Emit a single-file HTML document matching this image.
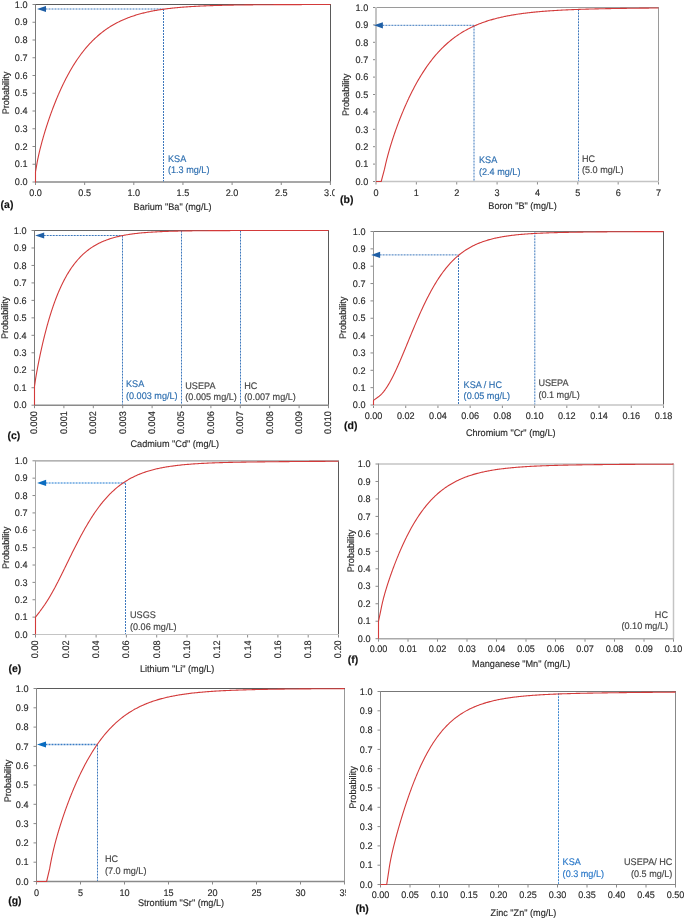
<!DOCTYPE html>
<html><head><meta charset="utf-8"><style>
html,body{margin:0;padding:0;background:#fff;}
body{width:685px;height:919px;overflow:hidden;}
svg{display:block;will-change:transform;}
text{font-family:"Liberation Sans", sans-serif;stroke:currentColor;stroke-width:0.15px;text-rendering:geometricPrecision;}
</style></head><body>
<svg width="685" height="919" viewBox="0 0 685 919" font-family='"Liberation Sans", sans-serif'><defs>
<clipPath id="ca"><rect x="0" y="0" width="334.7" height="220"/></clipPath>
<clipPath id="ce"><rect x="0" y="440" width="342" height="240"/></clipPath>
<clipPath id="cg"><rect x="0" y="680" width="345.8" height="239"/></clipPath>
</defs><g clip-path="url(#ca)">
<line x1="32.50" y1="182.00" x2="35.50" y2="182.00" stroke="#8a8a8a" stroke-width="1"/>
<text x="0" y="0" font-size="9.1" text-anchor="end" fill="#2b2b2b" color="#2b2b2b" font-weight="normal" transform="translate(27.50 185.20) scale(1 1.050)">0.0</text>
<line x1="32.50" y1="164.25" x2="35.50" y2="164.25" stroke="#8a8a8a" stroke-width="1"/>
<text x="0" y="0" font-size="9.1" text-anchor="end" fill="#2b2b2b" color="#2b2b2b" font-weight="normal" transform="translate(27.50 167.45) scale(1 1.050)">0.1</text>
<line x1="32.50" y1="146.50" x2="35.50" y2="146.50" stroke="#8a8a8a" stroke-width="1"/>
<text x="0" y="0" font-size="9.1" text-anchor="end" fill="#2b2b2b" color="#2b2b2b" font-weight="normal" transform="translate(27.50 149.70) scale(1 1.050)">0.2</text>
<line x1="32.50" y1="128.75" x2="35.50" y2="128.75" stroke="#8a8a8a" stroke-width="1"/>
<text x="0" y="0" font-size="9.1" text-anchor="end" fill="#2b2b2b" color="#2b2b2b" font-weight="normal" transform="translate(27.50 131.95) scale(1 1.050)">0.3</text>
<line x1="32.50" y1="111.00" x2="35.50" y2="111.00" stroke="#8a8a8a" stroke-width="1"/>
<text x="0" y="0" font-size="9.1" text-anchor="end" fill="#2b2b2b" color="#2b2b2b" font-weight="normal" transform="translate(27.50 114.20) scale(1 1.050)">0.4</text>
<line x1="32.50" y1="93.25" x2="35.50" y2="93.25" stroke="#8a8a8a" stroke-width="1"/>
<text x="0" y="0" font-size="9.1" text-anchor="end" fill="#2b2b2b" color="#2b2b2b" font-weight="normal" transform="translate(27.50 96.45) scale(1 1.050)">0.5</text>
<line x1="32.50" y1="75.50" x2="35.50" y2="75.50" stroke="#8a8a8a" stroke-width="1"/>
<text x="0" y="0" font-size="9.1" text-anchor="end" fill="#2b2b2b" color="#2b2b2b" font-weight="normal" transform="translate(27.50 78.70) scale(1 1.050)">0.6</text>
<line x1="32.50" y1="57.75" x2="35.50" y2="57.75" stroke="#8a8a8a" stroke-width="1"/>
<text x="0" y="0" font-size="9.1" text-anchor="end" fill="#2b2b2b" color="#2b2b2b" font-weight="normal" transform="translate(27.50 60.95) scale(1 1.050)">0.7</text>
<line x1="32.50" y1="40.00" x2="35.50" y2="40.00" stroke="#8a8a8a" stroke-width="1"/>
<text x="0" y="0" font-size="9.1" text-anchor="end" fill="#2b2b2b" color="#2b2b2b" font-weight="normal" transform="translate(27.50 43.20) scale(1 1.050)">0.8</text>
<line x1="32.50" y1="22.25" x2="35.50" y2="22.25" stroke="#8a8a8a" stroke-width="1"/>
<text x="0" y="0" font-size="9.1" text-anchor="end" fill="#2b2b2b" color="#2b2b2b" font-weight="normal" transform="translate(27.50 25.45) scale(1 1.050)">0.9</text>
<line x1="32.50" y1="4.50" x2="35.50" y2="4.50" stroke="#8a8a8a" stroke-width="1"/>
<text x="0" y="0" font-size="9.1" text-anchor="end" fill="#2b2b2b" color="#2b2b2b" font-weight="normal" transform="translate(27.50 7.70) scale(1 1.050)">1.0</text>
<line x1="35.50" y1="182.00" x2="35.50" y2="185.00" stroke="#8a8a8a" stroke-width="1"/>
<text x="0" y="0" font-size="9.1" text-anchor="middle" fill="#2b2b2b" color="#2b2b2b" font-weight="normal" transform="translate(35.50 195.50) scale(1 1.050)">0.0</text>
<line x1="84.65" y1="182.00" x2="84.65" y2="185.00" stroke="#8a8a8a" stroke-width="1"/>
<text x="0" y="0" font-size="9.1" text-anchor="middle" fill="#2b2b2b" color="#2b2b2b" font-weight="normal" transform="translate(84.65 195.50) scale(1 1.050)">0.5</text>
<line x1="133.80" y1="182.00" x2="133.80" y2="185.00" stroke="#8a8a8a" stroke-width="1"/>
<text x="0" y="0" font-size="9.1" text-anchor="middle" fill="#2b2b2b" color="#2b2b2b" font-weight="normal" transform="translate(133.80 195.50) scale(1 1.050)">1.0</text>
<line x1="182.95" y1="182.00" x2="182.95" y2="185.00" stroke="#8a8a8a" stroke-width="1"/>
<text x="0" y="0" font-size="9.1" text-anchor="middle" fill="#2b2b2b" color="#2b2b2b" font-weight="normal" transform="translate(182.95 195.50) scale(1 1.050)">1.5</text>
<line x1="232.10" y1="182.00" x2="232.10" y2="185.00" stroke="#8a8a8a" stroke-width="1"/>
<text x="0" y="0" font-size="9.1" text-anchor="middle" fill="#2b2b2b" color="#2b2b2b" font-weight="normal" transform="translate(232.10 195.50) scale(1 1.050)">2.0</text>
<line x1="281.25" y1="182.00" x2="281.25" y2="185.00" stroke="#8a8a8a" stroke-width="1"/>
<text x="0" y="0" font-size="9.1" text-anchor="middle" fill="#2b2b2b" color="#2b2b2b" font-weight="normal" transform="translate(281.25 195.50) scale(1 1.050)">2.5</text>
<line x1="330.40" y1="182.00" x2="330.40" y2="185.00" stroke="#8a8a8a" stroke-width="1"/>
<text x="0" y="0" font-size="9.1" text-anchor="middle" fill="#2b2b2b" color="#2b2b2b" font-weight="normal" transform="translate(330.40 195.50) scale(1 1.050)">3.0</text>
<line x1="330.50" y1="4.50" x2="330.50" y2="182.00" stroke="#5a5a5a" stroke-width="1"/>
<line x1="35.50" y1="4.50" x2="331.00" y2="4.50" stroke="#5a5a5a" stroke-width="1"/>
<line x1="35.50" y1="4.00" x2="35.50" y2="182.50" stroke="#7a7a7a" stroke-width="1"/>
<line x1="35.00" y1="182.00" x2="331.00" y2="182.00" stroke="#8a8a8a" stroke-width="1.5"/>
<line x1="163.50" y1="9.00" x2="163.50" y2="181.40" stroke="#3d78bd" stroke-width="1" stroke-dasharray="2,1"/>
<line x1="45.50" y1="9.00" x2="163.50" y2="9.00" stroke="#3d78bd" stroke-width="1" stroke-dasharray="2,1"/>
<path d="M37.00,9.00 L46.00,5.90 L46.00,12.10 Z" fill="#1f5fa6"/>
<path d="M35.50,182.50 L35.50,171.80 L36.70,165.01 L36.90,163.88 L37.09,162.78 L37.29,161.72 L37.49,160.69 L37.69,159.69 L37.88,158.72 L38.08,157.77 L38.28,156.84 L38.47,155.93 L38.67,155.04 L38.87,154.16 L39.07,153.30 L39.26,152.45 L39.46,151.62 L39.66,150.80 L39.85,149.98 L40.05,149.18 L40.25,148.39 L40.45,147.61 L40.64,146.83 L40.84,146.07 L41.04,145.31 L41.24,144.56 L41.43,143.82 L41.63,143.08 L41.83,142.35 L42.02,141.63 L42.22,140.91 L42.42,140.20 L42.62,139.50 L42.81,138.80 L43.01,138.10 L43.21,137.41 L43.40,136.73 L43.60,136.05 L43.80,135.38 L44.00,134.71 L44.19,134.04 L44.39,133.38 L44.59,132.73 L44.78,132.08 L44.98,131.43 L45.18,130.78 L45.38,130.14 L45.57,129.51 L45.77,128.88 L45.97,128.25 L46.16,127.63 L46.36,127.00 L46.56,126.39 L46.76,125.77 L46.95,125.16 L47.15,124.56 L47.35,123.96 L47.54,123.36 L47.74,122.76 L47.94,122.17 L48.14,121.58 L48.33,120.99 L48.53,120.40 L48.73,119.82 L48.93,119.25 L49.12,118.67 L49.32,118.10 L49.52,117.53 L49.71,116.97 L49.91,116.40 L50.11,115.84 L50.31,115.29 L50.50,114.73 L50.70,114.18 L50.90,113.63 L51.09,113.08 L51.29,112.54 L51.49,112.00 L51.69,111.46 L51.88,110.93 L52.08,110.39 L52.28,109.86 L52.47,109.34 L52.67,108.81 L52.87,108.29 L53.07,107.77 L53.26,107.25 L53.46,106.73 L53.66,106.22 L53.85,105.71 L54.05,105.20 L54.25,104.70 L54.45,104.20 L54.64,103.70 L54.84,103.20 L55.04,102.70 L55.24,102.21 L55.43,101.72 L55.63,101.23 L55.83,100.74 L56.02,100.26 L56.22,99.78 L56.42,99.30 L56.62,98.82 L56.81,98.34 L57.01,97.87 L57.21,97.40 L57.40,96.93 L57.60,96.47 L57.80,96.00 L58.00,95.54 L58.19,95.08 L58.39,94.62 L58.59,94.17 L58.78,93.71 L58.98,93.26 L59.18,92.81 L59.38,92.37 L59.57,91.92 L59.77,91.48 L59.97,91.04 L60.16,90.60 L60.36,90.16 L60.56,89.73 L60.76,89.30 L60.95,88.87 L61.15,88.44 L61.35,88.01 L61.54,87.59 L61.74,87.16 L61.94,86.74 L62.14,86.32 L62.33,85.91 L62.53,85.49 L62.73,85.08 L62.93,84.67 L63.12,84.26 L63.32,83.85 L63.52,83.45 L63.71,83.04 L63.91,82.64 L64.11,82.24 L64.31,81.85 L64.50,81.45 L64.70,81.06 L64.90,80.66 L65.09,80.27 L65.29,79.88 L65.49,79.50 L65.69,79.11 L65.88,78.73 L66.08,78.35 L66.96,76.66 L67.85,75.01 L68.73,73.39 L69.62,71.81 L70.50,70.26 L71.39,68.74 L72.27,67.25 L73.15,65.80 L74.04,64.38 L74.92,62.98 L75.81,61.62 L76.69,60.29 L77.58,58.98 L78.46,57.71 L79.35,56.46 L80.23,55.24 L81.11,54.04 L82.00,52.87 L82.88,51.73 L83.77,50.61 L84.65,49.52 L85.54,48.45 L86.42,47.40 L87.30,46.38 L88.19,45.38 L89.07,44.40 L89.96,43.45 L90.84,42.51 L91.73,41.60 L92.61,40.71 L93.49,39.84 L94.38,38.98 L95.26,38.15 L96.15,37.34 L97.03,36.54 L97.92,35.76 L98.80,35.00 L99.69,34.26 L100.57,33.54 L101.45,32.83 L102.34,32.14 L103.22,31.46 L104.11,30.80 L104.99,30.16 L105.88,29.53 L106.76,28.91 L107.64,28.31 L108.53,27.73 L109.41,27.15 L110.30,26.59 L111.18,26.05 L112.07,25.52 L112.95,24.99 L113.83,24.49 L114.72,23.99 L115.60,23.51 L116.49,23.03 L117.37,22.57 L118.26,22.12 L119.14,21.68 L120.03,21.25 L120.91,20.84 L121.79,20.43 L122.68,20.03 L123.56,19.64 L124.45,19.26 L125.33,18.89 L126.22,18.53 L127.10,18.17 L127.98,17.83 L128.87,17.49 L129.75,17.17 L130.64,16.85 L131.52,16.54 L132.41,16.23 L133.29,15.94 L134.17,15.65 L135.06,15.36 L135.94,15.09 L136.83,14.82 L137.71,14.56 L138.60,14.30 L139.48,14.05 L140.37,13.81 L141.25,13.57 L142.13,13.34 L143.02,13.12 L143.90,12.90 L144.79,12.68 L145.67,12.47 L146.56,12.27 L147.44,12.07 L148.32,11.88 L149.21,11.69 L150.09,11.51 L150.98,11.33 L151.86,11.15 L152.75,10.98 L153.63,10.81 L154.51,10.65 L155.40,10.49 L156.28,10.34 L157.17,10.19 L158.05,10.04 L158.94,9.90 L159.82,9.76 L160.71,9.63 L161.59,9.49 L162.47,9.37 L163.36,9.24 L164.24,9.12 L165.13,9.00 L166.01,8.88 L166.90,8.77 L167.78,8.66 L168.66,8.55 L169.55,8.45 L170.43,8.34 L171.32,8.25 L172.20,8.15 L173.09,8.05 L173.97,7.96 L174.85,7.87 L175.74,7.78 L176.62,7.70 L177.51,7.62 L178.39,7.54 L179.28,7.46 L180.16,7.38 L181.05,7.31 L181.93,7.23 L182.81,7.16 L183.70,7.09 L184.58,7.02 L185.47,6.96 L186.35,6.90 L187.24,6.83 L188.12,6.77 L189.00,6.71 L189.89,6.66 L190.77,6.60 L191.66,6.54 L192.54,6.49 L193.43,6.44 L194.31,6.39 L195.19,6.34 L196.08,6.29 L196.96,6.25 L197.85,6.20 L198.73,6.16 L199.62,6.11 L200.50,6.07 L201.39,6.03 L202.27,5.99 L203.15,5.95 L204.04,5.91 L204.92,5.88 L205.81,5.84 L206.69,5.80 L207.58,5.77 L208.46,5.74 L209.34,5.70 L210.23,5.67 L211.11,5.64 L212.00,5.61 L212.88,5.58 L213.77,5.56 L214.65,5.53 L215.53,5.50 L216.42,5.47 L217.30,5.45 L218.19,5.42 L219.07,5.40 L219.96,5.38 L220.84,5.35 L221.73,5.33 L222.61,5.31 L223.49,5.29 L224.38,5.27 L225.26,5.25 L226.15,5.23 L227.03,5.21 L227.92,5.19 L228.80,5.17 L229.68,5.16 L230.57,5.14 L231.45,5.12 L232.34,5.11 L233.22,5.09 L234.11,5.07 L234.99,5.06 L235.87,5.04 L236.76,5.03 L237.64,5.02 L238.53,5.00 L239.41,4.99 L240.30,4.98 L241.18,4.96 L242.07,4.95 L242.95,4.94 L243.83,4.93 L244.72,4.92 L245.60,4.91 L246.49,4.90 L247.37,4.89 L248.26,4.88 L249.14,4.87 L250.02,4.86 L250.91,4.85 L251.79,4.84 L252.68,4.83 L253.56,4.82 L254.45,4.81 L255.33,4.80 L256.21,4.80 L257.10,4.79 L257.98,4.78 L258.87,4.77 L259.75,4.77 L260.64,4.76 L261.52,4.75 L262.41,4.75 L263.29,4.74 L264.17,4.73 L265.06,4.73 L265.94,4.72 L266.83,4.71 L267.71,4.71 L268.60,4.70 L269.48,4.70 L270.36,4.69 L271.25,4.69 L272.13,4.68 L273.02,4.68 L273.90,4.67 L274.79,4.67 L275.67,4.66 L276.55,4.66 L277.44,4.66 L278.32,4.65 L279.21,4.65 L280.09,4.64 L280.98,4.64 L281.86,4.64 L282.75,4.63 L283.63,4.63 L284.51,4.63 L285.40,4.62 L286.28,4.62 L287.17,4.62 L288.05,4.61 L288.94,4.61 L289.82,4.61 L290.70,4.60 L291.59,4.60 L292.47,4.60 L293.36,4.60 L294.24,4.59 L295.13,4.59 L296.01,4.59 L296.89,4.59 L297.78,4.58 L298.66,4.58 L299.55,4.58 L300.43,4.58 L301.32,4.58 L302.20,4.57 L303.09,4.57 L303.97,4.57 L304.85,4.57 L305.74,4.57 L306.62,4.56 L307.51,4.56 L308.39,4.56 L309.28,4.56 L310.16,4.56 L311.04,4.56 L311.93,4.55 L312.81,4.55 L313.70,4.55 L314.58,4.55 L315.47,4.55 L316.35,4.55 L317.23,4.55 L318.12,4.55 L319.00,4.54 L319.89,4.54 L320.77,4.54 L321.66,4.54 L322.54,4.54 L323.43,4.54 L324.31,4.54 L325.19,4.54 L326.08,4.54 L326.96,4.53 L327.85,4.53 L328.73,4.53 L329.62,4.53 L330.50,4.53" fill="none" stroke="#d33a3a" stroke-width="1.1" stroke-linejoin="round"/>
<text x="0" y="0" font-size="9.1" text-anchor="start" fill="#2e6fb0" color="#2e6fb0" font-weight="normal" transform="translate(168.00 161.60) scale(1 1.050)">KSA</text>
<text x="0" y="0" font-size="9.1" text-anchor="start" fill="#2e6fb0" color="#2e6fb0" font-weight="normal" transform="translate(168.00 172.60) scale(1 1.050)">(1.3 mg/L)</text>
<text x="0" y="0" font-size="9.15" text-anchor="middle" fill="#2b2b2b" color="#2b2b2b" font-weight="normal" transform="translate(172.55 209.80) scale(1 1.050)">Barium "Ba" (mg/L)</text>
<text x="0" y="0" font-size="9.1" text-anchor="middle" fill="#2b2b2b" color="#2b2b2b" font-weight="normal" transform="translate(8.90 93.00) rotate(-90) scale(1 1.050)">Probability</text>
</g>
<text x="0" y="0" font-size="10.5" text-anchor="start" fill="#111" color="#111" font-weight="bold" transform="translate(0.60 208.20)">(a)</text>
<line x1="373.00" y1="181.50" x2="376.00" y2="181.50" stroke="#8a8a8a" stroke-width="1"/>
<text x="0" y="0" font-size="9.1" text-anchor="end" fill="#2b2b2b" color="#2b2b2b" font-weight="normal" transform="translate(368.20 184.70) scale(1 1.050)">0.0</text>
<line x1="373.00" y1="164.10" x2="376.00" y2="164.10" stroke="#8a8a8a" stroke-width="1"/>
<text x="0" y="0" font-size="9.1" text-anchor="end" fill="#2b2b2b" color="#2b2b2b" font-weight="normal" transform="translate(368.20 167.30) scale(1 1.050)">0.1</text>
<line x1="373.00" y1="146.70" x2="376.00" y2="146.70" stroke="#8a8a8a" stroke-width="1"/>
<text x="0" y="0" font-size="9.1" text-anchor="end" fill="#2b2b2b" color="#2b2b2b" font-weight="normal" transform="translate(368.20 149.90) scale(1 1.050)">0.2</text>
<line x1="373.00" y1="129.30" x2="376.00" y2="129.30" stroke="#8a8a8a" stroke-width="1"/>
<text x="0" y="0" font-size="9.1" text-anchor="end" fill="#2b2b2b" color="#2b2b2b" font-weight="normal" transform="translate(368.20 132.50) scale(1 1.050)">0.3</text>
<line x1="373.00" y1="111.90" x2="376.00" y2="111.90" stroke="#8a8a8a" stroke-width="1"/>
<text x="0" y="0" font-size="9.1" text-anchor="end" fill="#2b2b2b" color="#2b2b2b" font-weight="normal" transform="translate(368.20 115.10) scale(1 1.050)">0.4</text>
<line x1="373.00" y1="94.50" x2="376.00" y2="94.50" stroke="#8a8a8a" stroke-width="1"/>
<text x="0" y="0" font-size="9.1" text-anchor="end" fill="#2b2b2b" color="#2b2b2b" font-weight="normal" transform="translate(368.20 97.70) scale(1 1.050)">0.5</text>
<line x1="373.00" y1="77.10" x2="376.00" y2="77.10" stroke="#8a8a8a" stroke-width="1"/>
<text x="0" y="0" font-size="9.1" text-anchor="end" fill="#2b2b2b" color="#2b2b2b" font-weight="normal" transform="translate(368.20 80.30) scale(1 1.050)">0.6</text>
<line x1="373.00" y1="59.70" x2="376.00" y2="59.70" stroke="#8a8a8a" stroke-width="1"/>
<text x="0" y="0" font-size="9.1" text-anchor="end" fill="#2b2b2b" color="#2b2b2b" font-weight="normal" transform="translate(368.20 62.90) scale(1 1.050)">0.7</text>
<line x1="373.00" y1="42.30" x2="376.00" y2="42.30" stroke="#8a8a8a" stroke-width="1"/>
<text x="0" y="0" font-size="9.1" text-anchor="end" fill="#2b2b2b" color="#2b2b2b" font-weight="normal" transform="translate(368.20 45.50) scale(1 1.050)">0.8</text>
<line x1="373.00" y1="24.90" x2="376.00" y2="24.90" stroke="#8a8a8a" stroke-width="1"/>
<text x="0" y="0" font-size="9.1" text-anchor="end" fill="#2b2b2b" color="#2b2b2b" font-weight="normal" transform="translate(368.20 28.10) scale(1 1.050)">0.9</text>
<line x1="373.00" y1="7.50" x2="376.00" y2="7.50" stroke="#8a8a8a" stroke-width="1"/>
<text x="0" y="0" font-size="9.1" text-anchor="end" fill="#2b2b2b" color="#2b2b2b" font-weight="normal" transform="translate(368.20 10.70) scale(1 1.050)">1.0</text>
<line x1="376.00" y1="181.50" x2="376.00" y2="184.50" stroke="#8a8a8a" stroke-width="1"/>
<text x="0" y="0" font-size="9.1" text-anchor="middle" fill="#2b2b2b" color="#2b2b2b" font-weight="normal" transform="translate(376.00 195.60) scale(1 1.050)">0</text>
<line x1="416.36" y1="181.50" x2="416.36" y2="184.50" stroke="#8a8a8a" stroke-width="1"/>
<text x="0" y="0" font-size="9.1" text-anchor="middle" fill="#2b2b2b" color="#2b2b2b" font-weight="normal" transform="translate(416.36 195.60) scale(1 1.050)">1</text>
<line x1="456.72" y1="181.50" x2="456.72" y2="184.50" stroke="#8a8a8a" stroke-width="1"/>
<text x="0" y="0" font-size="9.1" text-anchor="middle" fill="#2b2b2b" color="#2b2b2b" font-weight="normal" transform="translate(456.72 195.60) scale(1 1.050)">2</text>
<line x1="497.08" y1="181.50" x2="497.08" y2="184.50" stroke="#8a8a8a" stroke-width="1"/>
<text x="0" y="0" font-size="9.1" text-anchor="middle" fill="#2b2b2b" color="#2b2b2b" font-weight="normal" transform="translate(497.08 195.60) scale(1 1.050)">3</text>
<line x1="537.44" y1="181.50" x2="537.44" y2="184.50" stroke="#8a8a8a" stroke-width="1"/>
<text x="0" y="0" font-size="9.1" text-anchor="middle" fill="#2b2b2b" color="#2b2b2b" font-weight="normal" transform="translate(537.44 195.60) scale(1 1.050)">4</text>
<line x1="577.80" y1="181.50" x2="577.80" y2="184.50" stroke="#8a8a8a" stroke-width="1"/>
<text x="0" y="0" font-size="9.1" text-anchor="middle" fill="#2b2b2b" color="#2b2b2b" font-weight="normal" transform="translate(577.80 195.60) scale(1 1.050)">5</text>
<line x1="618.16" y1="181.50" x2="618.16" y2="184.50" stroke="#8a8a8a" stroke-width="1"/>
<text x="0" y="0" font-size="9.1" text-anchor="middle" fill="#2b2b2b" color="#2b2b2b" font-weight="normal" transform="translate(618.16 195.60) scale(1 1.050)">6</text>
<line x1="658.52" y1="181.50" x2="658.52" y2="184.50" stroke="#8a8a8a" stroke-width="1"/>
<text x="0" y="0" font-size="9.1" text-anchor="middle" fill="#2b2b2b" color="#2b2b2b" font-weight="normal" transform="translate(658.52 195.60) scale(1 1.050)">7</text>
<line x1="658.50" y1="7.50" x2="658.50" y2="181.50" stroke="#9a9a9a" stroke-width="1"/>
<line x1="376.00" y1="7.50" x2="659.00" y2="7.50" stroke="#9a9a9a" stroke-width="1"/>
<line x1="376.00" y1="7.00" x2="376.00" y2="182.00" stroke="#c4c4c4" stroke-width="2"/>
<line x1="375.50" y1="181.50" x2="659.00" y2="181.50" stroke="#c4c4c4" stroke-width="1.5"/>
<line x1="474.00" y1="25.60" x2="474.00" y2="180.90" stroke="#3d78bd" stroke-width="1" stroke-dasharray="2,1"/>
<line x1="578.50" y1="9.30" x2="578.50" y2="180.90" stroke="#3d78bd" stroke-width="1" stroke-dasharray="2,1"/>
<line x1="382.40" y1="25.30" x2="474.00" y2="25.30" stroke="#3d78bd" stroke-width="1" stroke-dasharray="2,1"/>
<path d="M373.90,25.30 L382.90,22.20 L382.90,28.40 Z" fill="#1f5fa6"/>
<path d="M376.00,181.50 L381.20,181.50 L384.50,169.17 L384.68,168.32 L384.87,167.48 L385.05,166.65 L385.24,165.83 L385.42,165.03 L385.60,164.23 L385.79,163.45 L385.97,162.68 L386.16,161.91 L386.34,161.16 L386.52,160.41 L386.71,159.68 L386.89,158.95 L387.07,158.23 L387.26,157.52 L387.44,156.82 L387.63,156.12 L387.81,155.43 L387.99,154.75 L388.18,154.07 L388.36,153.40 L388.55,152.74 L388.73,152.08 L388.91,151.43 L389.10,150.78 L389.28,150.14 L389.47,149.50 L389.65,148.87 L389.83,148.24 L390.02,147.62 L390.20,147.00 L390.38,146.39 L390.57,145.78 L390.75,145.18 L390.94,144.58 L391.12,143.98 L391.30,143.39 L391.49,142.80 L391.67,142.22 L391.86,141.64 L392.04,141.06 L392.22,140.48 L392.41,139.91 L392.59,139.34 L392.78,138.78 L392.96,138.22 L393.14,137.66 L393.33,137.11 L393.51,136.55 L393.69,136.00 L393.88,135.46 L394.06,134.91 L394.25,134.37 L394.43,133.83 L394.61,133.30 L394.80,132.77 L394.98,132.24 L395.17,131.71 L395.35,131.18 L395.53,130.66 L395.72,130.14 L395.90,129.62 L396.09,129.11 L396.27,128.60 L396.45,128.08 L396.64,127.58 L396.82,127.07 L397.00,126.57 L397.19,126.07 L397.37,125.57 L397.56,125.07 L397.74,124.57 L397.92,124.08 L398.11,123.59 L398.29,123.10 L398.48,122.61 L398.66,122.13 L398.84,121.65 L399.03,121.17 L399.21,120.69 L399.40,120.21 L399.58,119.74 L399.76,119.26 L399.95,118.79 L400.13,118.32 L400.31,117.86 L400.50,117.39 L400.68,116.93 L400.87,116.47 L401.05,116.01 L401.23,115.55 L401.42,115.10 L401.60,114.64 L401.79,114.19 L401.97,113.74 L402.15,113.29 L402.34,112.84 L402.52,112.40 L402.71,111.96 L402.89,111.51 L403.07,111.07 L403.26,110.64 L403.44,110.20 L403.62,109.77 L403.81,109.33 L403.99,108.90 L404.18,108.47 L404.36,108.04 L404.54,107.62 L404.73,107.19 L404.91,106.77 L405.10,106.35 L405.28,105.93 L405.46,105.51 L405.65,105.09 L405.83,104.68 L406.02,104.27 L406.20,103.85 L406.38,103.44 L406.57,103.04 L406.75,102.63 L406.93,102.22 L407.12,101.82 L407.30,101.42 L407.49,101.02 L407.67,100.62 L407.85,100.22 L408.04,99.82 L408.22,99.43 L408.41,99.04 L408.59,98.64 L408.77,98.25 L408.96,97.87 L409.14,97.48 L409.33,97.09 L409.51,96.71 L409.69,96.33 L409.88,95.95 L410.06,95.57 L410.24,95.19 L410.43,94.81 L410.61,94.44 L410.80,94.06 L410.98,93.69 L411.16,93.32 L411.35,92.95 L411.53,92.58 L411.72,92.21 L411.90,91.85 L412.72,90.23 L413.55,88.64 L414.37,87.07 L415.20,85.54 L416.02,84.02 L416.85,82.54 L417.67,81.08 L418.50,79.65 L419.32,78.25 L420.15,76.87 L420.97,75.51 L421.80,74.18 L422.62,72.87 L423.45,71.59 L424.27,70.33 L425.10,69.09 L425.92,67.88 L426.75,66.68 L427.57,65.51 L428.39,64.37 L429.22,63.24 L430.04,62.13 L430.87,61.05 L431.69,59.98 L432.52,58.94 L433.34,57.92 L434.17,56.91 L434.99,55.93 L435.82,54.96 L436.64,54.01 L437.47,53.08 L438.29,52.17 L439.12,51.28 L439.94,50.40 L440.77,49.54 L441.59,48.70 L442.42,47.87 L443.24,47.06 L444.07,46.27 L444.89,45.49 L445.71,44.73 L446.54,43.98 L447.36,43.25 L448.19,42.53 L449.01,41.83 L449.84,41.14 L450.66,40.46 L451.49,39.80 L452.31,39.15 L453.14,38.51 L453.96,37.89 L454.79,37.28 L455.61,36.68 L456.44,36.10 L457.26,35.52 L458.09,34.96 L458.91,34.41 L459.74,33.87 L460.56,33.34 L461.38,32.82 L462.21,32.32 L463.03,31.82 L463.86,31.33 L464.68,30.86 L465.51,30.39 L466.33,29.93 L467.16,29.48 L467.98,29.05 L468.81,28.62 L469.63,28.20 L470.46,27.78 L471.28,27.38 L472.11,26.98 L472.93,26.60 L473.76,26.22 L474.58,25.85 L475.41,25.48 L476.23,25.13 L477.06,24.78 L477.88,24.44 L478.70,24.10 L479.53,23.78 L480.35,23.46 L481.18,23.14 L482.00,22.84 L482.83,22.53 L483.65,22.24 L484.48,21.95 L485.30,21.67 L486.13,21.39 L486.95,21.12 L487.78,20.85 L488.60,20.59 L489.43,20.34 L490.25,20.09 L491.08,19.85 L491.90,19.61 L492.73,19.37 L493.55,19.14 L494.37,18.92 L495.20,18.70 L496.02,18.48 L496.85,18.27 L497.67,18.07 L498.50,17.87 L499.32,17.67 L500.15,17.47 L500.97,17.28 L501.80,17.10 L502.62,16.92 L503.45,16.74 L504.27,16.56 L505.10,16.39 L505.92,16.22 L506.75,16.06 L507.57,15.90 L508.40,15.74 L509.22,15.59 L510.05,15.43 L510.87,15.29 L511.69,15.14 L512.52,15.00 L513.34,14.86 L514.17,14.72 L514.99,14.59 L515.82,14.46 L516.64,14.33 L517.47,14.21 L518.29,14.08 L519.12,13.96 L519.94,13.84 L520.77,13.73 L521.59,13.61 L522.42,13.50 L523.24,13.40 L524.07,13.29 L524.89,13.18 L525.72,13.08 L526.54,12.98 L527.36,12.88 L528.19,12.79 L529.01,12.69 L529.84,12.60 L530.66,12.51 L531.49,12.42 L532.31,12.33 L533.14,12.25 L533.96,12.16 L534.79,12.08 L535.61,12.00 L536.44,11.92 L537.26,11.85 L538.09,11.77 L538.91,11.70 L539.74,11.62 L540.56,11.55 L541.39,11.48 L542.21,11.41 L543.04,11.35 L543.86,11.28 L544.68,11.21 L545.51,11.15 L546.33,11.09 L547.16,11.03 L547.98,10.97 L548.81,10.91 L549.63,10.85 L550.46,10.80 L551.28,10.74 L552.11,10.69 L552.93,10.63 L553.76,10.58 L554.58,10.53 L555.41,10.48 L556.23,10.43 L557.06,10.38 L557.88,10.33 L558.71,10.29 L559.53,10.24 L560.35,10.20 L561.18,10.15 L562.00,10.11 L562.83,10.07 L563.65,10.03 L564.48,9.99 L565.30,9.95 L566.13,9.91 L566.95,9.87 L567.78,9.83 L568.60,9.79 L569.43,9.76 L570.25,9.72 L571.08,9.69 L571.90,9.65 L572.73,9.62 L573.55,9.59 L574.38,9.55 L575.20,9.52 L576.03,9.49 L576.85,9.46 L577.67,9.43 L578.50,9.40 L579.32,9.37 L580.15,9.34 L580.97,9.32 L581.80,9.29 L582.62,9.26 L583.45,9.23 L584.27,9.21 L585.10,9.18 L585.92,9.16 L586.75,9.13 L587.57,9.11 L588.40,9.08 L589.22,9.06 L590.05,9.04 L590.87,9.02 L591.70,8.99 L592.52,8.97 L593.34,8.95 L594.17,8.93 L594.99,8.91 L595.82,8.89 L596.64,8.87 L597.47,8.85 L598.29,8.83 L599.12,8.81 L599.94,8.79 L600.77,8.77 L601.59,8.76 L602.42,8.74 L603.24,8.72 L604.07,8.70 L604.89,8.69 L605.72,8.67 L606.54,8.65 L607.37,8.64 L608.19,8.62 L609.02,8.61 L609.84,8.59 L610.66,8.58 L611.49,8.56 L612.31,8.55 L613.14,8.53 L613.96,8.52 L614.79,8.51 L615.61,8.49 L616.44,8.48 L617.26,8.46 L618.09,8.45 L618.91,8.44 L619.74,8.43 L620.56,8.41 L621.39,8.40 L622.21,8.39 L623.04,8.38 L623.86,8.36 L624.69,8.35 L625.51,8.34 L626.33,8.33 L627.16,8.32 L627.98,8.31 L628.81,8.30 L629.63,8.29 L630.46,8.27 L631.28,8.26 L632.11,8.25 L632.93,8.24 L633.76,8.23 L634.58,8.22 L635.41,8.21 L636.23,8.20 L637.06,8.19 L637.88,8.19 L638.71,8.18 L639.53,8.17 L640.36,8.16 L641.18,8.15 L642.01,8.14 L642.83,8.13 L643.65,8.12 L644.48,8.12 L645.30,8.11 L646.13,8.10 L646.95,8.09 L647.78,8.08 L648.60,8.08 L649.43,8.07 L650.25,8.06 L651.08,8.05 L651.90,8.05 L652.73,8.04 L653.55,8.03 L654.38,8.02 L655.20,8.02 L656.03,8.01 L656.85,8.00 L657.68,8.00 L658.50,7.99" fill="none" stroke="#d33a3a" stroke-width="1.1" stroke-linejoin="round"/>
<text x="0" y="0" font-size="9.1" text-anchor="start" fill="#2e6fb0" color="#2e6fb0" font-weight="normal" transform="translate(479.00 163.40) scale(1 1.050)">KSA</text>
<text x="0" y="0" font-size="9.1" text-anchor="start" fill="#2e6fb0" color="#2e6fb0" font-weight="normal" transform="translate(479.00 174.80) scale(1 1.050)">(2.4 mg/L)</text>
<text x="0" y="0" font-size="9.1" text-anchor="start" fill="#454545" color="#454545" font-weight="normal" transform="translate(582.00 162.00) scale(1 1.050)">HC</text>
<text x="0" y="0" font-size="9.1" text-anchor="start" fill="#454545" color="#454545" font-weight="normal" transform="translate(582.00 173.40) scale(1 1.050)">(5.0 mg/L)</text>
<text x="0" y="0" font-size="9.15" text-anchor="middle" fill="#2b2b2b" color="#2b2b2b" font-weight="normal" transform="translate(522.50 208.60) scale(1 1.050)">Boron "B" (mg/L)</text>
<text x="0" y="0" font-size="9.1" text-anchor="middle" fill="#2b2b2b" color="#2b2b2b" font-weight="normal" transform="translate(348.50 94.85) rotate(-90) scale(1 1.050)">Probability</text>
<text x="0" y="0" font-size="10.5" text-anchor="start" fill="#111" color="#111" font-weight="bold" transform="translate(340.00 203.00)">(b)</text>
<line x1="31.50" y1="405.20" x2="34.50" y2="405.20" stroke="#8a8a8a" stroke-width="1"/>
<text x="0" y="0" font-size="9.1" text-anchor="end" fill="#2b2b2b" color="#2b2b2b" font-weight="normal" transform="translate(26.50 408.40) scale(1 1.050)">0.0</text>
<line x1="31.50" y1="387.73" x2="34.50" y2="387.73" stroke="#8a8a8a" stroke-width="1"/>
<text x="0" y="0" font-size="9.1" text-anchor="end" fill="#2b2b2b" color="#2b2b2b" font-weight="normal" transform="translate(26.50 390.93) scale(1 1.050)">0.1</text>
<line x1="31.50" y1="370.26" x2="34.50" y2="370.26" stroke="#8a8a8a" stroke-width="1"/>
<text x="0" y="0" font-size="9.1" text-anchor="end" fill="#2b2b2b" color="#2b2b2b" font-weight="normal" transform="translate(26.50 373.46) scale(1 1.050)">0.2</text>
<line x1="31.50" y1="352.79" x2="34.50" y2="352.79" stroke="#8a8a8a" stroke-width="1"/>
<text x="0" y="0" font-size="9.1" text-anchor="end" fill="#2b2b2b" color="#2b2b2b" font-weight="normal" transform="translate(26.50 355.99) scale(1 1.050)">0.3</text>
<line x1="31.50" y1="335.32" x2="34.50" y2="335.32" stroke="#8a8a8a" stroke-width="1"/>
<text x="0" y="0" font-size="9.1" text-anchor="end" fill="#2b2b2b" color="#2b2b2b" font-weight="normal" transform="translate(26.50 338.52) scale(1 1.050)">0.4</text>
<line x1="31.50" y1="317.85" x2="34.50" y2="317.85" stroke="#8a8a8a" stroke-width="1"/>
<text x="0" y="0" font-size="9.1" text-anchor="end" fill="#2b2b2b" color="#2b2b2b" font-weight="normal" transform="translate(26.50 321.05) scale(1 1.050)">0.5</text>
<line x1="31.50" y1="300.38" x2="34.50" y2="300.38" stroke="#8a8a8a" stroke-width="1"/>
<text x="0" y="0" font-size="9.1" text-anchor="end" fill="#2b2b2b" color="#2b2b2b" font-weight="normal" transform="translate(26.50 303.58) scale(1 1.050)">0.6</text>
<line x1="31.50" y1="282.91" x2="34.50" y2="282.91" stroke="#8a8a8a" stroke-width="1"/>
<text x="0" y="0" font-size="9.1" text-anchor="end" fill="#2b2b2b" color="#2b2b2b" font-weight="normal" transform="translate(26.50 286.11) scale(1 1.050)">0.7</text>
<line x1="31.50" y1="265.44" x2="34.50" y2="265.44" stroke="#8a8a8a" stroke-width="1"/>
<text x="0" y="0" font-size="9.1" text-anchor="end" fill="#2b2b2b" color="#2b2b2b" font-weight="normal" transform="translate(26.50 268.64) scale(1 1.050)">0.8</text>
<line x1="31.50" y1="247.97" x2="34.50" y2="247.97" stroke="#8a8a8a" stroke-width="1"/>
<text x="0" y="0" font-size="9.1" text-anchor="end" fill="#2b2b2b" color="#2b2b2b" font-weight="normal" transform="translate(26.50 251.17) scale(1 1.050)">0.9</text>
<line x1="31.50" y1="230.50" x2="34.50" y2="230.50" stroke="#8a8a8a" stroke-width="1"/>
<text x="0" y="0" font-size="9.1" text-anchor="end" fill="#2b2b2b" color="#2b2b2b" font-weight="normal" transform="translate(26.50 233.70) scale(1 1.050)">1.0</text>
<line x1="34.50" y1="405.20" x2="34.50" y2="408.20" stroke="#8a8a8a" stroke-width="1"/>
<text x="0" y="0" font-size="9.1" text-anchor="end" fill="#2b2b2b" color="#2b2b2b" font-weight="normal" transform="translate(37.40 411.20) rotate(-90) scale(1 1.050)">0.000</text>
<line x1="63.90" y1="405.20" x2="63.90" y2="408.20" stroke="#8a8a8a" stroke-width="1"/>
<text x="0" y="0" font-size="9.1" text-anchor="end" fill="#2b2b2b" color="#2b2b2b" font-weight="normal" transform="translate(66.80 411.20) rotate(-90) scale(1 1.050)">0.001</text>
<line x1="93.30" y1="405.20" x2="93.30" y2="408.20" stroke="#8a8a8a" stroke-width="1"/>
<text x="0" y="0" font-size="9.1" text-anchor="end" fill="#2b2b2b" color="#2b2b2b" font-weight="normal" transform="translate(96.20 411.20) rotate(-90) scale(1 1.050)">0.002</text>
<line x1="122.70" y1="405.20" x2="122.70" y2="408.20" stroke="#8a8a8a" stroke-width="1"/>
<text x="0" y="0" font-size="9.1" text-anchor="end" fill="#2b2b2b" color="#2b2b2b" font-weight="normal" transform="translate(125.60 411.20) rotate(-90) scale(1 1.050)">0.003</text>
<line x1="152.10" y1="405.20" x2="152.10" y2="408.20" stroke="#8a8a8a" stroke-width="1"/>
<text x="0" y="0" font-size="9.1" text-anchor="end" fill="#2b2b2b" color="#2b2b2b" font-weight="normal" transform="translate(155.00 411.20) rotate(-90) scale(1 1.050)">0.004</text>
<line x1="181.50" y1="405.20" x2="181.50" y2="408.20" stroke="#8a8a8a" stroke-width="1"/>
<text x="0" y="0" font-size="9.1" text-anchor="end" fill="#2b2b2b" color="#2b2b2b" font-weight="normal" transform="translate(184.40 411.20) rotate(-90) scale(1 1.050)">0.005</text>
<line x1="210.90" y1="405.20" x2="210.90" y2="408.20" stroke="#8a8a8a" stroke-width="1"/>
<text x="0" y="0" font-size="9.1" text-anchor="end" fill="#2b2b2b" color="#2b2b2b" font-weight="normal" transform="translate(213.80 411.20) rotate(-90) scale(1 1.050)">0.006</text>
<line x1="240.30" y1="405.20" x2="240.30" y2="408.20" stroke="#8a8a8a" stroke-width="1"/>
<text x="0" y="0" font-size="9.1" text-anchor="end" fill="#2b2b2b" color="#2b2b2b" font-weight="normal" transform="translate(243.20 411.20) rotate(-90) scale(1 1.050)">0.007</text>
<line x1="269.70" y1="405.20" x2="269.70" y2="408.20" stroke="#8a8a8a" stroke-width="1"/>
<text x="0" y="0" font-size="9.1" text-anchor="end" fill="#2b2b2b" color="#2b2b2b" font-weight="normal" transform="translate(272.60 411.20) rotate(-90) scale(1 1.050)">0.008</text>
<line x1="299.10" y1="405.20" x2="299.10" y2="408.20" stroke="#8a8a8a" stroke-width="1"/>
<text x="0" y="0" font-size="9.1" text-anchor="end" fill="#2b2b2b" color="#2b2b2b" font-weight="normal" transform="translate(302.00 411.20) rotate(-90) scale(1 1.050)">0.009</text>
<line x1="328.50" y1="405.20" x2="328.50" y2="408.20" stroke="#8a8a8a" stroke-width="1"/>
<text x="0" y="0" font-size="9.1" text-anchor="end" fill="#2b2b2b" color="#2b2b2b" font-weight="normal" transform="translate(331.40 411.20) rotate(-90) scale(1 1.050)">0.010</text>
<line x1="328.50" y1="230.50" x2="328.50" y2="405.20" stroke="#5a5a5a" stroke-width="1"/>
<line x1="34.50" y1="230.50" x2="329.00" y2="230.50" stroke="#666" stroke-width="1"/>
<line x1="34.50" y1="230.00" x2="34.50" y2="405.70" stroke="#7a7a7a" stroke-width="1"/>
<line x1="34.00" y1="405.20" x2="329.00" y2="405.20" stroke="#8a8a8a" stroke-width="1.4"/>
<line x1="122.50" y1="235.60" x2="122.50" y2="404.60" stroke="#3d78bd" stroke-width="1" stroke-dasharray="2,1"/>
<line x1="181.50" y1="230.60" x2="181.50" y2="404.60" stroke="#3d78bd" stroke-width="1" stroke-dasharray="2,1"/>
<line x1="240.50" y1="230.60" x2="240.50" y2="404.60" stroke="#3d78bd" stroke-width="1" stroke-dasharray="2,1"/>
<line x1="43.70" y1="235.50" x2="122.50" y2="235.50" stroke="#3d78bd" stroke-width="1" stroke-dasharray="2,1"/>
<path d="M35.20,235.50 L44.20,232.40 L44.20,238.60 Z" fill="#1f5fa6"/>
<path d="M34.50,405.20 L34.50,386.30 L35.70,378.14 L35.90,376.98 L36.09,375.84 L36.29,374.71 L36.49,373.60 L36.68,372.51 L36.88,371.42 L37.08,370.35 L37.27,369.29 L37.47,368.24 L37.67,367.20 L37.86,366.17 L38.06,365.15 L38.25,364.13 L38.45,363.13 L38.65,362.14 L38.84,361.15 L39.04,360.17 L39.24,359.20 L39.43,358.24 L39.63,357.29 L39.83,356.34 L40.02,355.40 L40.22,354.47 L40.42,353.54 L40.61,352.63 L40.81,351.72 L41.01,350.81 L41.20,349.92 L41.40,349.03 L41.60,348.14 L41.79,347.27 L41.99,346.40 L42.18,345.53 L42.38,344.68 L42.58,343.83 L42.77,342.98 L42.97,342.14 L43.17,341.31 L43.36,340.49 L43.56,339.67 L43.76,338.85 L43.95,338.05 L44.15,337.25 L44.35,336.45 L44.54,335.66 L44.74,334.88 L44.94,334.10 L45.13,333.33 L45.33,332.56 L45.53,331.80 L45.72,331.04 L45.92,330.29 L46.12,329.55 L46.31,328.81 L46.51,328.08 L46.70,327.35 L46.90,326.63 L47.10,325.91 L47.29,325.20 L47.49,324.49 L47.69,323.79 L47.88,323.09 L48.08,322.40 L48.28,321.71 L48.47,321.03 L48.67,320.35 L48.87,319.68 L49.06,319.02 L49.26,318.35 L49.46,317.70 L49.65,317.04 L49.85,316.40 L50.05,315.75 L50.24,315.12 L50.44,314.48 L50.63,313.85 L50.83,313.23 L51.03,312.61 L51.22,312.00 L51.42,311.39 L51.62,310.78 L51.81,310.18 L52.01,309.58 L52.21,308.99 L52.40,308.40 L52.60,307.82 L52.80,307.24 L52.99,306.66 L53.19,306.09 L53.39,305.52 L53.58,304.96 L53.78,304.40 L53.98,303.85 L54.17,303.29 L54.37,302.75 L54.56,302.21 L54.76,301.67 L54.96,301.13 L55.15,300.60 L55.35,300.07 L55.55,299.55 L55.74,299.03 L55.94,298.52 L56.14,298.01 L56.33,297.50 L56.53,296.99 L56.73,296.49 L56.92,296.00 L57.12,295.50 L57.32,295.01 L57.51,294.53 L57.71,294.05 L57.91,293.57 L58.10,293.09 L58.30,292.62 L58.50,292.15 L58.69,291.69 L58.89,291.23 L59.08,290.77 L59.28,290.32 L59.48,289.87 L59.67,289.42 L59.87,288.97 L60.07,288.53 L60.26,288.10 L60.46,287.66 L60.66,287.23 L60.85,286.80 L61.05,286.38 L61.25,285.95 L61.44,285.54 L61.64,285.12 L61.84,284.71 L62.03,284.30 L62.23,283.89 L62.43,283.49 L62.62,283.09 L62.82,282.69 L63.01,282.30 L63.21,281.91 L63.41,281.52 L63.60,281.13 L63.80,280.75 L64.00,280.37 L64.19,279.99 L64.39,279.62 L64.59,279.25 L64.78,278.88 L64.98,278.51 L65.86,276.90 L66.74,275.35 L67.62,273.84 L68.51,272.39 L69.39,270.98 L70.27,269.62 L71.15,268.31 L72.03,267.04 L72.91,265.81 L73.79,264.62 L74.67,263.47 L75.56,262.36 L76.44,261.29 L77.32,260.25 L78.20,259.25 L79.08,258.28 L79.96,257.35 L80.84,256.44 L81.73,255.57 L82.61,254.72 L83.49,253.90 L84.37,253.11 L85.25,252.35 L86.13,251.61 L87.01,250.90 L87.89,250.21 L88.78,249.54 L89.66,248.90 L90.54,248.27 L91.42,247.67 L92.30,247.09 L93.18,246.53 L94.06,245.99 L94.95,245.46 L95.83,244.96 L96.71,244.47 L97.59,243.99 L98.47,243.54 L99.35,243.10 L100.23,242.67 L101.11,242.26 L102.00,241.86 L102.88,241.47 L103.76,241.10 L104.64,240.74 L105.52,240.39 L106.40,240.06 L107.28,239.73 L108.17,239.42 L109.05,239.12 L109.93,238.83 L110.81,238.54 L111.69,238.27 L112.57,238.01 L113.45,237.75 L114.33,237.51 L115.22,237.27 L116.10,237.04 L116.98,236.82 L117.86,236.60 L118.74,236.39 L119.62,236.19 L120.50,236.00 L121.39,235.81 L122.27,235.63 L123.15,235.46 L124.03,235.29 L124.91,235.13 L125.79,234.97 L126.67,234.82 L127.55,234.67 L128.44,234.53 L129.32,234.39 L130.20,234.26 L131.08,234.13 L131.96,234.01 L132.84,233.89 L133.72,233.78 L134.61,233.66 L135.49,233.56 L136.37,233.45 L137.25,233.35 L138.13,233.26 L139.01,233.16 L139.89,233.07 L140.78,232.98 L141.66,232.90 L142.54,232.82 L143.42,232.74 L144.30,232.66 L145.18,232.59 L146.06,232.52 L146.94,232.45 L147.83,232.38 L148.71,232.32 L149.59,232.26 L150.47,232.20 L151.35,232.14 L152.23,232.09 L153.11,232.03 L154.00,231.98 L154.88,231.93 L155.76,231.88 L156.64,231.83 L157.52,231.79 L158.40,231.75 L159.28,231.70 L160.16,231.66 L161.05,231.62 L161.93,231.58 L162.81,231.55 L163.69,231.51 L164.57,231.48 L165.45,231.45 L166.33,231.41 L167.22,231.38 L168.10,231.35 L168.98,231.32 L169.86,231.30 L170.74,231.27 L171.62,231.24 L172.50,231.22 L173.38,231.19 L174.27,231.17 L175.15,231.15 L176.03,231.12 L176.91,231.10 L177.79,231.08 L178.67,231.06 L179.55,231.04 L180.44,231.03 L181.32,231.01 L182.20,230.99 L183.08,230.97 L183.96,230.96 L184.84,230.94 L185.72,230.93 L186.60,230.91 L187.49,230.90 L188.37,230.89 L189.25,230.87 L190.13,230.86 L191.01,230.85 L191.89,230.84 L192.77,230.82 L193.66,230.81 L194.54,230.80 L195.42,230.79 L196.30,230.78 L197.18,230.77 L198.06,230.76 L198.94,230.76 L199.82,230.75 L200.71,230.74 L201.59,230.73 L202.47,230.72 L203.35,230.71 L204.23,230.71 L205.11,230.70 L205.99,230.69 L206.88,230.69 L207.76,230.68 L208.64,230.67 L209.52,230.67 L210.40,230.66 L211.28,230.66 L212.16,230.65 L213.04,230.65 L213.93,230.64 L214.81,230.64 L215.69,230.63 L216.57,230.63 L217.45,230.62 L218.33,230.62 L219.21,230.62 L220.10,230.61 L220.98,230.61 L221.86,230.60 L222.74,230.60 L223.62,230.60 L224.50,230.59 L225.38,230.59 L226.26,230.59 L227.15,230.58 L228.03,230.58 L228.91,230.58 L229.79,230.58 L230.67,230.57 L231.55,230.57 L232.43,230.57 L233.32,230.57 L234.20,230.56 L235.08,230.56 L235.96,230.56 L236.84,230.56 L237.72,230.56 L238.60,230.55 L239.48,230.55 L240.37,230.55 L241.25,230.55 L242.13,230.55 L243.01,230.55 L243.89,230.54 L244.77,230.54 L245.65,230.54 L246.54,230.54 L247.42,230.54 L248.30,230.54 L249.18,230.54 L250.06,230.53 L250.94,230.53 L251.82,230.53 L252.70,230.53 L253.59,230.53 L254.47,230.53 L255.35,230.53 L256.23,230.53 L257.11,230.53 L257.99,230.53 L258.87,230.52 L259.76,230.52 L260.64,230.52 L261.52,230.52 L262.40,230.52 L263.28,230.52 L264.16,230.52 L265.04,230.52 L265.93,230.52 L266.81,230.52 L267.69,230.52 L268.57,230.52 L269.45,230.52 L270.33,230.52 L271.21,230.52 L272.09,230.51 L272.98,230.51 L273.86,230.51 L274.74,230.51 L275.62,230.51 L276.50,230.51 L277.38,230.51 L278.26,230.51 L279.15,230.51 L280.03,230.51 L280.91,230.51 L281.79,230.51 L282.67,230.51 L283.55,230.51 L284.43,230.51 L285.31,230.51 L286.20,230.51 L287.08,230.51 L287.96,230.51 L288.84,230.51 L289.72,230.51 L290.60,230.51 L291.48,230.51 L292.37,230.51 L293.25,230.51 L294.13,230.51 L295.01,230.51 L295.89,230.51 L296.77,230.51 L297.65,230.51 L298.53,230.51 L299.42,230.51 L300.30,230.50 L301.18,230.50 L302.06,230.50 L302.94,230.50 L303.82,230.50 L304.70,230.50 L305.59,230.50 L306.47,230.50 L307.35,230.50 L308.23,230.50 L309.11,230.50 L309.99,230.50 L310.87,230.50 L311.75,230.50 L312.64,230.50 L313.52,230.50 L314.40,230.50 L315.28,230.50 L316.16,230.50 L317.04,230.50 L317.92,230.50 L318.81,230.50 L319.69,230.50 L320.57,230.50 L321.45,230.50 L322.33,230.50 L323.21,230.50 L324.09,230.50 L324.97,230.50 L325.86,230.50 L326.74,230.50 L327.62,230.50 L328.50,230.50" fill="none" stroke="#d33a3a" stroke-width="1.1" stroke-linejoin="round"/>
<text x="0" y="0" font-size="9.1" text-anchor="start" fill="#2e6fb0" color="#2e6fb0" font-weight="normal" transform="translate(126.00 387.40) scale(1 1.050)">KSA</text>
<text x="0" y="0" font-size="9.1" text-anchor="start" fill="#2e6fb0" color="#2e6fb0" font-weight="normal" transform="translate(126.00 398.80) scale(1 1.050)">(0.003 mg/L)</text>
<text x="0" y="0" font-size="9.1" text-anchor="start" fill="#454545" color="#454545" font-weight="normal" transform="translate(185.30 388.60) scale(1 1.050)">USEPA</text>
<text x="0" y="0" font-size="9.1" text-anchor="start" fill="#454545" color="#454545" font-weight="normal" transform="translate(185.30 400.00) scale(1 1.050)">(0.005 mg/L)</text>
<text x="0" y="0" font-size="9.1" text-anchor="start" fill="#454545" color="#454545" font-weight="normal" transform="translate(244.30 388.60) scale(1 1.050)">HC</text>
<text x="0" y="0" font-size="9.1" text-anchor="start" fill="#454545" color="#454545" font-weight="normal" transform="translate(244.30 400.00) scale(1 1.050)">(0.007 mg/L)</text>
<text x="0" y="0" font-size="9.15" text-anchor="middle" fill="#2b2b2b" color="#2b2b2b" font-weight="normal" transform="translate(174.80 447.00) scale(1 1.050)">Cadmium "Cd" (mg/L)</text>
<text x="0" y="0" font-size="9.1" text-anchor="middle" fill="#2b2b2b" color="#2b2b2b" font-weight="normal" transform="translate(7.80 317.85) rotate(-90) scale(1 1.050)">Probability</text>
<text x="0" y="0" font-size="10.5" text-anchor="start" fill="#111" color="#111" font-weight="bold" transform="translate(7.50 438.60)">(c)</text>
<line x1="370.50" y1="405.00" x2="373.50" y2="405.00" stroke="#8a8a8a" stroke-width="1"/>
<text x="0" y="0" font-size="9.1" text-anchor="end" fill="#2b2b2b" color="#2b2b2b" font-weight="normal" transform="translate(365.50 408.20) scale(1 1.050)">0.0</text>
<line x1="370.50" y1="387.65" x2="373.50" y2="387.65" stroke="#8a8a8a" stroke-width="1"/>
<text x="0" y="0" font-size="9.1" text-anchor="end" fill="#2b2b2b" color="#2b2b2b" font-weight="normal" transform="translate(365.50 390.85) scale(1 1.050)">0.1</text>
<line x1="370.50" y1="370.30" x2="373.50" y2="370.30" stroke="#8a8a8a" stroke-width="1"/>
<text x="0" y="0" font-size="9.1" text-anchor="end" fill="#2b2b2b" color="#2b2b2b" font-weight="normal" transform="translate(365.50 373.50) scale(1 1.050)">0.2</text>
<line x1="370.50" y1="352.95" x2="373.50" y2="352.95" stroke="#8a8a8a" stroke-width="1"/>
<text x="0" y="0" font-size="9.1" text-anchor="end" fill="#2b2b2b" color="#2b2b2b" font-weight="normal" transform="translate(365.50 356.15) scale(1 1.050)">0.3</text>
<line x1="370.50" y1="335.60" x2="373.50" y2="335.60" stroke="#8a8a8a" stroke-width="1"/>
<text x="0" y="0" font-size="9.1" text-anchor="end" fill="#2b2b2b" color="#2b2b2b" font-weight="normal" transform="translate(365.50 338.80) scale(1 1.050)">0.4</text>
<line x1="370.50" y1="318.25" x2="373.50" y2="318.25" stroke="#8a8a8a" stroke-width="1"/>
<text x="0" y="0" font-size="9.1" text-anchor="end" fill="#2b2b2b" color="#2b2b2b" font-weight="normal" transform="translate(365.50 321.45) scale(1 1.050)">0.5</text>
<line x1="370.50" y1="300.90" x2="373.50" y2="300.90" stroke="#8a8a8a" stroke-width="1"/>
<text x="0" y="0" font-size="9.1" text-anchor="end" fill="#2b2b2b" color="#2b2b2b" font-weight="normal" transform="translate(365.50 304.10) scale(1 1.050)">0.6</text>
<line x1="370.50" y1="283.55" x2="373.50" y2="283.55" stroke="#8a8a8a" stroke-width="1"/>
<text x="0" y="0" font-size="9.1" text-anchor="end" fill="#2b2b2b" color="#2b2b2b" font-weight="normal" transform="translate(365.50 286.75) scale(1 1.050)">0.7</text>
<line x1="370.50" y1="266.20" x2="373.50" y2="266.20" stroke="#8a8a8a" stroke-width="1"/>
<text x="0" y="0" font-size="9.1" text-anchor="end" fill="#2b2b2b" color="#2b2b2b" font-weight="normal" transform="translate(365.50 269.40) scale(1 1.050)">0.8</text>
<line x1="370.50" y1="248.85" x2="373.50" y2="248.85" stroke="#8a8a8a" stroke-width="1"/>
<text x="0" y="0" font-size="9.1" text-anchor="end" fill="#2b2b2b" color="#2b2b2b" font-weight="normal" transform="translate(365.50 252.05) scale(1 1.050)">0.9</text>
<line x1="370.50" y1="231.50" x2="373.50" y2="231.50" stroke="#8a8a8a" stroke-width="1"/>
<text x="0" y="0" font-size="9.1" text-anchor="end" fill="#2b2b2b" color="#2b2b2b" font-weight="normal" transform="translate(365.50 234.70) scale(1 1.050)">1.0</text>
<line x1="373.50" y1="405.00" x2="373.50" y2="408.00" stroke="#8a8a8a" stroke-width="1"/>
<text x="0" y="0" font-size="9.1" text-anchor="middle" fill="#2b2b2b" color="#2b2b2b" font-weight="normal" transform="translate(373.50 418.60) scale(1 1.050)">0.00</text>
<line x1="405.72" y1="405.00" x2="405.72" y2="408.00" stroke="#8a8a8a" stroke-width="1"/>
<text x="0" y="0" font-size="9.1" text-anchor="middle" fill="#2b2b2b" color="#2b2b2b" font-weight="normal" transform="translate(405.72 418.60) scale(1 1.050)">0.02</text>
<line x1="437.94" y1="405.00" x2="437.94" y2="408.00" stroke="#8a8a8a" stroke-width="1"/>
<text x="0" y="0" font-size="9.1" text-anchor="middle" fill="#2b2b2b" color="#2b2b2b" font-weight="normal" transform="translate(437.94 418.60) scale(1 1.050)">0.04</text>
<line x1="470.16" y1="405.00" x2="470.16" y2="408.00" stroke="#8a8a8a" stroke-width="1"/>
<text x="0" y="0" font-size="9.1" text-anchor="middle" fill="#2b2b2b" color="#2b2b2b" font-weight="normal" transform="translate(470.16 418.60) scale(1 1.050)">0.06</text>
<line x1="502.38" y1="405.00" x2="502.38" y2="408.00" stroke="#8a8a8a" stroke-width="1"/>
<text x="0" y="0" font-size="9.1" text-anchor="middle" fill="#2b2b2b" color="#2b2b2b" font-weight="normal" transform="translate(502.38 418.60) scale(1 1.050)">0.08</text>
<line x1="534.60" y1="405.00" x2="534.60" y2="408.00" stroke="#8a8a8a" stroke-width="1"/>
<text x="0" y="0" font-size="9.1" text-anchor="middle" fill="#2b2b2b" color="#2b2b2b" font-weight="normal" transform="translate(534.60 418.60) scale(1 1.050)">0.10</text>
<line x1="566.82" y1="405.00" x2="566.82" y2="408.00" stroke="#8a8a8a" stroke-width="1"/>
<text x="0" y="0" font-size="9.1" text-anchor="middle" fill="#2b2b2b" color="#2b2b2b" font-weight="normal" transform="translate(566.82 418.60) scale(1 1.050)">0.12</text>
<line x1="599.04" y1="405.00" x2="599.04" y2="408.00" stroke="#8a8a8a" stroke-width="1"/>
<text x="0" y="0" font-size="9.1" text-anchor="middle" fill="#2b2b2b" color="#2b2b2b" font-weight="normal" transform="translate(599.04 418.60) scale(1 1.050)">0.14</text>
<line x1="631.26" y1="405.00" x2="631.26" y2="408.00" stroke="#8a8a8a" stroke-width="1"/>
<text x="0" y="0" font-size="9.1" text-anchor="middle" fill="#2b2b2b" color="#2b2b2b" font-weight="normal" transform="translate(631.26 418.60) scale(1 1.050)">0.16</text>
<line x1="663.48" y1="405.00" x2="663.48" y2="408.00" stroke="#8a8a8a" stroke-width="1"/>
<text x="0" y="0" font-size="9.1" text-anchor="middle" fill="#2b2b2b" color="#2b2b2b" font-weight="normal" transform="translate(663.48 418.60) scale(1 1.050)">0.18</text>
<line x1="663.50" y1="231.50" x2="663.50" y2="405.00" stroke="#5a5a5a" stroke-width="1"/>
<line x1="373.50" y1="231.50" x2="664.00" y2="231.50" stroke="#777" stroke-width="1"/>
<line x1="373.50" y1="231.00" x2="373.50" y2="405.50" stroke="#999" stroke-width="1"/>
<line x1="373.00" y1="405.00" x2="664.00" y2="405.00" stroke="#c4c4c4" stroke-width="1.6"/>
<line x1="458.50" y1="255.00" x2="458.50" y2="404.40" stroke="#3d78bd" stroke-width="1" stroke-dasharray="2,1"/>
<line x1="534.80" y1="232.30" x2="534.80" y2="404.40" stroke="#3d78bd" stroke-width="1" stroke-dasharray="2,1"/>
<line x1="379.60" y1="254.90" x2="458.50" y2="254.90" stroke="#3d78bd" stroke-width="1" stroke-dasharray="2,1"/>
<path d="M371.10,254.90 L380.10,251.80 L380.10,258.00 Z" fill="#1f5fa6"/>
<path d="M373.50,405.00 L373.50,400.40 L378.50,396.76 L378.69,396.62 L378.88,396.47 L379.07,396.32 L379.27,396.17 L379.46,396.01 L379.65,395.85 L379.84,395.68 L380.03,395.51 L380.22,395.34 L380.41,395.16 L380.60,394.98 L380.80,394.80 L380.99,394.61 L381.18,394.42 L381.37,394.22 L381.56,394.02 L381.75,393.82 L381.94,393.61 L382.13,393.40 L382.33,393.19 L382.52,392.97 L382.71,392.75 L382.90,392.53 L383.09,392.30 L383.28,392.07 L383.47,391.83 L383.66,391.60 L383.86,391.36 L384.05,391.11 L384.24,390.86 L384.43,390.61 L384.62,390.36 L384.81,390.10 L385.00,389.84 L385.19,389.57 L385.39,389.30 L385.58,389.03 L385.77,388.76 L385.96,388.48 L386.15,388.20 L386.34,387.91 L386.53,387.63 L386.72,387.34 L386.92,387.04 L387.11,386.75 L387.30,386.45 L387.49,386.14 L387.68,385.84 L387.87,385.53 L388.06,385.22 L388.26,384.90 L388.45,384.59 L388.64,384.27 L388.83,383.94 L389.02,383.62 L389.21,383.29 L389.40,382.95 L389.59,382.62 L389.79,382.28 L389.98,381.94 L390.17,381.60 L390.36,381.25 L390.55,380.91 L390.74,380.56 L390.93,380.20 L391.12,379.85 L391.32,379.49 L391.51,379.13 L391.70,378.76 L391.89,378.40 L392.08,378.03 L392.27,377.66 L392.46,377.29 L392.65,376.91 L392.85,376.53 L393.04,376.15 L393.23,375.77 L393.42,375.39 L393.61,375.00 L393.80,374.61 L393.99,374.22 L394.18,373.83 L394.38,373.43 L394.57,373.04 L394.76,372.64 L394.95,372.24 L395.14,371.83 L395.33,371.43 L395.52,371.02 L395.71,370.61 L395.91,370.20 L396.10,369.79 L396.29,369.38 L396.48,368.96 L396.67,368.54 L396.86,368.13 L397.05,367.70 L397.24,367.28 L397.44,366.86 L397.63,366.43 L397.82,366.01 L398.01,365.58 L398.20,365.15 L398.39,364.72 L398.58,364.28 L398.78,363.85 L398.97,363.41 L399.16,362.98 L399.35,362.54 L399.54,362.10 L399.73,361.66 L399.92,361.22 L400.11,360.77 L400.31,360.33 L400.50,359.88 L400.69,359.44 L400.88,358.99 L401.07,358.54 L401.26,358.09 L401.45,357.64 L401.64,357.19 L401.84,356.74 L402.03,356.29 L402.22,355.83 L402.41,355.38 L402.60,354.92 L402.79,354.47 L402.98,354.01 L403.17,353.55 L403.37,353.09 L403.56,352.64 L403.75,352.18 L403.94,351.72 L404.13,351.26 L404.32,350.79 L404.51,350.33 L404.70,349.87 L404.90,349.41 L405.09,348.95 L405.28,348.48 L405.47,348.02 L405.66,347.55 L405.85,347.09 L406.04,346.63 L406.23,346.16 L406.43,345.70 L406.62,345.23 L406.81,344.77 L407.00,344.30 L407.86,342.21 L408.72,340.12 L409.57,338.03 L410.43,335.95 L411.29,333.87 L412.15,331.80 L413.01,329.74 L413.86,327.69 L414.72,325.65 L415.58,323.63 L416.44,321.63 L417.29,319.64 L418.15,317.67 L419.01,315.72 L419.87,313.79 L420.73,311.89 L421.58,310.01 L422.44,308.15 L423.30,306.32 L424.16,304.51 L425.02,302.73 L425.87,300.98 L426.73,299.25 L427.59,297.55 L428.45,295.89 L429.30,294.25 L430.16,292.64 L431.02,291.05 L431.88,289.50 L432.74,287.98 L433.59,286.49 L434.45,285.03 L435.31,283.60 L436.17,282.20 L437.03,280.82 L437.88,279.48 L438.74,278.17 L439.60,276.89 L440.46,275.63 L441.31,274.41 L442.17,273.21 L443.03,272.04 L443.89,270.90 L444.75,269.79 L445.60,268.70 L446.46,267.64 L447.32,266.61 L448.18,265.61 L449.04,264.63 L449.89,263.67 L450.75,262.74 L451.61,261.84 L452.47,260.96 L453.32,260.10 L454.18,259.27 L455.04,258.46 L455.90,257.67 L456.76,256.90 L457.61,256.15 L458.47,255.43 L459.33,254.72 L460.19,254.04 L461.05,253.37 L461.90,252.73 L462.76,252.10 L463.62,251.49 L464.48,250.90 L465.33,250.32 L466.19,249.76 L467.05,249.22 L467.91,248.70 L468.77,248.18 L469.62,247.69 L470.48,247.21 L471.34,246.74 L472.20,246.29 L473.06,245.85 L473.91,245.43 L474.77,245.02 L475.63,244.62 L476.49,244.23 L477.34,243.85 L478.20,243.49 L479.06,243.13 L479.92,242.79 L480.78,242.46 L481.63,242.14 L482.49,241.83 L483.35,241.52 L484.21,241.23 L485.07,240.95 L485.92,240.67 L486.78,240.40 L487.64,240.15 L488.50,239.89 L489.35,239.65 L490.21,239.42 L491.07,239.19 L491.93,238.97 L492.79,238.75 L493.64,238.55 L494.50,238.34 L495.36,238.15 L496.22,237.96 L497.08,237.78 L497.93,237.60 L498.79,237.43 L499.65,237.26 L500.51,237.10 L501.36,236.94 L502.22,236.79 L503.08,236.65 L503.94,236.50 L504.80,236.37 L505.65,236.23 L506.51,236.10 L507.37,235.98 L508.23,235.85 L509.09,235.74 L509.94,235.62 L510.80,235.51 L511.66,235.40 L512.52,235.30 L513.37,235.20 L514.23,235.10 L515.09,235.00 L515.95,234.91 L516.81,234.82 L517.66,234.74 L518.52,234.65 L519.38,234.57 L520.24,234.49 L521.10,234.41 L521.95,234.34 L522.81,234.27 L523.67,234.20 L524.53,234.13 L525.38,234.06 L526.24,234.00 L527.10,233.94 L527.96,233.88 L528.82,233.82 L529.67,233.76 L530.53,233.71 L531.39,233.65 L532.25,233.60 L533.11,233.55 L533.96,233.50 L534.82,233.45 L535.68,233.41 L536.54,233.36 L537.39,233.32 L538.25,233.28 L539.11,233.23 L539.97,233.19 L540.83,233.16 L541.68,233.12 L542.54,233.08 L543.40,233.04 L544.26,233.01 L545.12,232.98 L545.97,232.94 L546.83,232.91 L547.69,232.88 L548.55,232.85 L549.40,232.82 L550.26,232.79 L551.12,232.76 L551.98,232.74 L552.84,232.71 L553.69,232.69 L554.55,232.66 L555.41,232.64 L556.27,232.61 L557.13,232.59 L557.98,232.57 L558.84,232.55 L559.70,232.52 L560.56,232.50 L561.41,232.48 L562.27,232.46 L563.13,232.44 L563.99,232.42 L564.85,232.40 L565.70,232.39 L566.56,232.37 L567.42,232.35 L568.28,232.33 L569.14,232.32 L569.99,232.30 L570.85,232.28 L571.71,232.27 L572.57,232.25 L573.42,232.24 L574.28,232.22 L575.14,232.21 L576.00,232.19 L576.86,232.18 L577.71,232.16 L578.57,232.15 L579.43,232.14 L580.29,232.12 L581.15,232.11 L582.00,232.10 L582.86,232.09 L583.72,232.07 L584.58,232.06 L585.43,232.05 L586.29,232.04 L587.15,232.03 L588.01,232.02 L588.87,232.01 L589.72,232.00 L590.58,231.99 L591.44,231.98 L592.30,231.97 L593.16,231.96 L594.01,231.95 L594.87,231.94 L595.73,231.93 L596.59,231.92 L597.44,231.91 L598.30,231.91 L599.16,231.90 L600.02,231.89 L600.88,231.88 L601.73,231.87 L602.59,231.87 L603.45,231.86 L604.31,231.85 L605.17,231.85 L606.02,231.84 L606.88,231.83 L607.74,231.82 L608.60,231.82 L609.45,231.81 L610.31,231.81 L611.17,231.80 L612.03,231.79 L612.89,231.79 L613.74,231.78 L614.60,231.78 L615.46,231.77 L616.32,231.77 L617.18,231.76 L618.03,231.75 L618.89,231.75 L619.75,231.74 L620.61,231.74 L621.46,231.74 L622.32,231.73 L623.18,231.73 L624.04,231.72 L624.90,231.72 L625.75,231.71 L626.61,231.71 L627.47,231.70 L628.33,231.70 L629.19,231.70 L630.04,231.69 L630.90,231.69 L631.76,231.68 L632.62,231.68 L633.47,231.68 L634.33,231.67 L635.19,231.67 L636.05,231.67 L636.91,231.66 L637.76,231.66 L638.62,231.66 L639.48,231.65 L640.34,231.65 L641.20,231.65 L642.05,231.65 L642.91,231.64 L643.77,231.64 L644.63,231.64 L645.48,231.63 L646.34,231.63 L647.20,231.63 L648.06,231.63 L648.92,231.62 L649.77,231.62 L650.63,231.62 L651.49,231.62 L652.35,231.61 L653.21,231.61 L654.06,231.61 L654.92,231.61 L655.78,231.61 L656.64,231.60 L657.49,231.60 L658.35,231.60 L659.21,231.60 L660.07,231.60 L660.93,231.59 L661.78,231.59 L662.64,231.59 L663.50,231.59" fill="none" stroke="#d33a3a" stroke-width="1.1" stroke-linejoin="round"/>
<text x="0" y="0" font-size="9.1" text-anchor="start" fill="#2e6fb0" color="#2e6fb0" font-weight="normal" transform="translate(463.60 387.60) scale(1 1.050)">KSA / HC</text>
<text x="0" y="0" font-size="9.1" text-anchor="start" fill="#2e6fb0" color="#2e6fb0" font-weight="normal" transform="translate(463.60 399.10) scale(1 1.050)">(0.05 mg/L)</text>
<text x="0" y="0" font-size="9.1" text-anchor="start" fill="#454545" color="#454545" font-weight="normal" transform="translate(538.40 386.10) scale(1 1.050)">USEPA</text>
<text x="0" y="0" font-size="9.1" text-anchor="start" fill="#454545" color="#454545" font-weight="normal" transform="translate(538.40 397.60) scale(1 1.050)">(0.1 mg/L)</text>
<text x="0" y="0" font-size="9.15" text-anchor="middle" fill="#2b2b2b" color="#2b2b2b" font-weight="normal" transform="translate(510.70 435.60) scale(1 1.050)">Chromium "Cr" (mg/L)</text>
<text x="0" y="0" font-size="9.1" text-anchor="middle" fill="#2b2b2b" color="#2b2b2b" font-weight="normal" transform="translate(345.70 317.85) rotate(-90) scale(1 1.050)">Probability</text>
<text x="0" y="0" font-size="10.5" text-anchor="start" fill="#111" color="#111" font-weight="bold" transform="translate(344.00 428.90)">(d)</text>
<g clip-path="url(#ce)">
<line x1="32.50" y1="634.50" x2="35.50" y2="634.50" stroke="#8a8a8a" stroke-width="1"/>
<text x="0" y="0" font-size="9.1" text-anchor="end" fill="#2b2b2b" color="#2b2b2b" font-weight="normal" transform="translate(27.50 637.70) scale(1 1.050)">0.0</text>
<line x1="32.50" y1="617.13" x2="35.50" y2="617.13" stroke="#8a8a8a" stroke-width="1"/>
<text x="0" y="0" font-size="9.1" text-anchor="end" fill="#2b2b2b" color="#2b2b2b" font-weight="normal" transform="translate(27.50 620.33) scale(1 1.050)">0.1</text>
<line x1="32.50" y1="599.76" x2="35.50" y2="599.76" stroke="#8a8a8a" stroke-width="1"/>
<text x="0" y="0" font-size="9.1" text-anchor="end" fill="#2b2b2b" color="#2b2b2b" font-weight="normal" transform="translate(27.50 602.96) scale(1 1.050)">0.2</text>
<line x1="32.50" y1="582.39" x2="35.50" y2="582.39" stroke="#8a8a8a" stroke-width="1"/>
<text x="0" y="0" font-size="9.1" text-anchor="end" fill="#2b2b2b" color="#2b2b2b" font-weight="normal" transform="translate(27.50 585.59) scale(1 1.050)">0.3</text>
<line x1="32.50" y1="565.02" x2="35.50" y2="565.02" stroke="#8a8a8a" stroke-width="1"/>
<text x="0" y="0" font-size="9.1" text-anchor="end" fill="#2b2b2b" color="#2b2b2b" font-weight="normal" transform="translate(27.50 568.22) scale(1 1.050)">0.4</text>
<line x1="32.50" y1="547.65" x2="35.50" y2="547.65" stroke="#8a8a8a" stroke-width="1"/>
<text x="0" y="0" font-size="9.1" text-anchor="end" fill="#2b2b2b" color="#2b2b2b" font-weight="normal" transform="translate(27.50 550.85) scale(1 1.050)">0.5</text>
<line x1="32.50" y1="530.28" x2="35.50" y2="530.28" stroke="#8a8a8a" stroke-width="1"/>
<text x="0" y="0" font-size="9.1" text-anchor="end" fill="#2b2b2b" color="#2b2b2b" font-weight="normal" transform="translate(27.50 533.48) scale(1 1.050)">0.6</text>
<line x1="32.50" y1="512.91" x2="35.50" y2="512.91" stroke="#8a8a8a" stroke-width="1"/>
<text x="0" y="0" font-size="9.1" text-anchor="end" fill="#2b2b2b" color="#2b2b2b" font-weight="normal" transform="translate(27.50 516.11) scale(1 1.050)">0.7</text>
<line x1="32.50" y1="495.54" x2="35.50" y2="495.54" stroke="#8a8a8a" stroke-width="1"/>
<text x="0" y="0" font-size="9.1" text-anchor="end" fill="#2b2b2b" color="#2b2b2b" font-weight="normal" transform="translate(27.50 498.74) scale(1 1.050)">0.8</text>
<line x1="32.50" y1="478.17" x2="35.50" y2="478.17" stroke="#8a8a8a" stroke-width="1"/>
<text x="0" y="0" font-size="9.1" text-anchor="end" fill="#2b2b2b" color="#2b2b2b" font-weight="normal" transform="translate(27.50 481.37) scale(1 1.050)">0.9</text>
<line x1="32.50" y1="460.80" x2="35.50" y2="460.80" stroke="#8a8a8a" stroke-width="1"/>
<text x="0" y="0" font-size="9.1" text-anchor="end" fill="#2b2b2b" color="#2b2b2b" font-weight="normal" transform="translate(27.50 464.00) scale(1 1.050)">1.0</text>
<line x1="35.50" y1="634.50" x2="35.50" y2="637.50" stroke="#8a8a8a" stroke-width="1"/>
<text x="0" y="0" font-size="9.1" text-anchor="end" fill="#2b2b2b" color="#2b2b2b" font-weight="normal" transform="translate(38.40 640.50) rotate(-90) scale(1 1.050)">0.00</text>
<line x1="65.80" y1="634.50" x2="65.80" y2="637.50" stroke="#8a8a8a" stroke-width="1"/>
<text x="0" y="0" font-size="9.1" text-anchor="end" fill="#2b2b2b" color="#2b2b2b" font-weight="normal" transform="translate(68.70 640.50) rotate(-90) scale(1 1.050)">0.02</text>
<line x1="96.10" y1="634.50" x2="96.10" y2="637.50" stroke="#8a8a8a" stroke-width="1"/>
<text x="0" y="0" font-size="9.1" text-anchor="end" fill="#2b2b2b" color="#2b2b2b" font-weight="normal" transform="translate(99.00 640.50) rotate(-90) scale(1 1.050)">0.04</text>
<line x1="126.40" y1="634.50" x2="126.40" y2="637.50" stroke="#8a8a8a" stroke-width="1"/>
<text x="0" y="0" font-size="9.1" text-anchor="end" fill="#2b2b2b" color="#2b2b2b" font-weight="normal" transform="translate(129.30 640.50) rotate(-90) scale(1 1.050)">0.06</text>
<line x1="156.70" y1="634.50" x2="156.70" y2="637.50" stroke="#8a8a8a" stroke-width="1"/>
<text x="0" y="0" font-size="9.1" text-anchor="end" fill="#2b2b2b" color="#2b2b2b" font-weight="normal" transform="translate(159.60 640.50) rotate(-90) scale(1 1.050)">0.08</text>
<line x1="187.00" y1="634.50" x2="187.00" y2="637.50" stroke="#8a8a8a" stroke-width="1"/>
<text x="0" y="0" font-size="9.1" text-anchor="end" fill="#2b2b2b" color="#2b2b2b" font-weight="normal" transform="translate(189.90 640.50) rotate(-90) scale(1 1.050)">0.10</text>
<line x1="217.30" y1="634.50" x2="217.30" y2="637.50" stroke="#8a8a8a" stroke-width="1"/>
<text x="0" y="0" font-size="9.1" text-anchor="end" fill="#2b2b2b" color="#2b2b2b" font-weight="normal" transform="translate(220.20 640.50) rotate(-90) scale(1 1.050)">0.12</text>
<line x1="247.60" y1="634.50" x2="247.60" y2="637.50" stroke="#8a8a8a" stroke-width="1"/>
<text x="0" y="0" font-size="9.1" text-anchor="end" fill="#2b2b2b" color="#2b2b2b" font-weight="normal" transform="translate(250.50 640.50) rotate(-90) scale(1 1.050)">0.14</text>
<line x1="277.90" y1="634.50" x2="277.90" y2="637.50" stroke="#8a8a8a" stroke-width="1"/>
<text x="0" y="0" font-size="9.1" text-anchor="end" fill="#2b2b2b" color="#2b2b2b" font-weight="normal" transform="translate(280.80 640.50) rotate(-90) scale(1 1.050)">0.16</text>
<line x1="308.20" y1="634.50" x2="308.20" y2="637.50" stroke="#8a8a8a" stroke-width="1"/>
<text x="0" y="0" font-size="9.1" text-anchor="end" fill="#2b2b2b" color="#2b2b2b" font-weight="normal" transform="translate(311.10 640.50) rotate(-90) scale(1 1.050)">0.18</text>
<line x1="338.50" y1="634.50" x2="338.50" y2="637.50" stroke="#8a8a8a" stroke-width="1"/>
<text x="0" y="0" font-size="9.1" text-anchor="end" fill="#2b2b2b" color="#2b2b2b" font-weight="normal" transform="translate(341.40 640.50) rotate(-90) scale(1 1.050)">0.20</text>
<line x1="338.50" y1="460.80" x2="338.50" y2="634.50" stroke="#5a5a5a" stroke-width="1"/>
<line x1="35.50" y1="460.80" x2="339.00" y2="460.80" stroke="#9a9a9a" stroke-width="1.3"/>
<line x1="35.50" y1="460.30" x2="35.50" y2="635.00" stroke="#a8a8a8" stroke-width="1"/>
<line x1="35.00" y1="634.50" x2="339.00" y2="634.50" stroke="#c4c4c4" stroke-width="1.2"/>
<line x1="125.50" y1="483.00" x2="125.50" y2="633.90" stroke="#3d78bd" stroke-width="1" stroke-dasharray="2,1"/>
<line x1="45.60" y1="482.90" x2="125.50" y2="482.90" stroke="#8cbbe8" stroke-width="2" stroke-dasharray="2,1"/>
<path d="M37.10,482.90 L46.10,479.80 L46.10,486.00 Z" fill="#0a6cc0"/>
<path d="M35.50,634.50 L35.50,617.20 L39.60,611.80 L39.80,611.52 L40.00,611.25 L40.20,610.98 L40.40,610.70 L40.60,610.43 L40.80,610.16 L41.00,609.89 L41.20,609.61 L41.41,609.34 L41.61,609.07 L41.81,608.79 L42.01,608.52 L42.21,608.24 L42.41,607.97 L42.61,607.69 L42.81,607.41 L43.01,607.13 L43.21,606.85 L43.41,606.56 L43.61,606.28 L43.81,605.99 L44.01,605.70 L44.21,605.41 L44.41,605.12 L44.62,604.83 L44.82,604.53 L45.02,604.24 L45.22,603.94 L45.42,603.64 L45.62,603.34 L45.82,603.03 L46.02,602.73 L46.22,602.42 L46.42,602.11 L46.62,601.80 L46.82,601.49 L47.02,601.18 L47.22,600.86 L47.42,600.55 L47.62,600.23 L47.82,599.91 L48.03,599.58 L48.23,599.26 L48.43,598.93 L48.63,598.60 L48.83,598.27 L49.03,597.94 L49.23,597.61 L49.43,597.28 L49.63,596.94 L49.83,596.60 L50.03,596.26 L50.23,595.92 L50.43,595.58 L50.63,595.23 L50.83,594.89 L51.03,594.54 L51.24,594.19 L51.44,593.84 L51.64,593.49 L51.84,593.13 L52.04,592.78 L52.24,592.42 L52.44,592.06 L52.64,591.70 L52.84,591.34 L53.04,590.98 L53.24,590.61 L53.44,590.25 L53.64,589.88 L53.84,589.51 L54.04,589.14 L54.24,588.77 L54.44,588.40 L54.65,588.03 L54.85,587.65 L55.05,587.28 L55.25,586.90 L55.45,586.52 L55.65,586.14 L55.85,585.76 L56.05,585.38 L56.25,585.00 L56.45,584.61 L56.65,584.23 L56.85,583.84 L57.05,583.45 L57.25,583.07 L57.45,582.68 L57.65,582.29 L57.85,581.90 L58.06,581.51 L58.26,581.11 L58.46,580.72 L58.66,580.33 L58.86,579.93 L59.06,579.53 L59.26,579.14 L59.46,578.74 L59.66,578.34 L59.86,577.94 L60.06,577.54 L60.26,577.14 L60.46,576.74 L60.66,576.34 L60.86,575.94 L61.06,575.54 L61.27,575.13 L61.47,574.73 L61.67,574.32 L61.87,573.92 L62.07,573.51 L62.27,573.11 L62.47,572.70 L62.67,572.29 L62.87,571.89 L63.07,571.48 L63.27,571.07 L63.47,570.66 L63.67,570.25 L63.87,569.84 L64.07,569.43 L64.27,569.03 L64.47,568.62 L64.68,568.21 L64.88,567.79 L65.08,567.38 L65.28,566.97 L65.48,566.56 L65.68,566.15 L65.88,565.74 L66.08,565.33 L66.28,564.92 L66.48,564.51 L66.68,564.10 L66.88,563.68 L67.08,563.27 L67.28,562.86 L67.48,562.45 L67.68,562.04 L67.89,561.63 L68.09,561.22 L68.29,560.81 L68.49,560.40 L68.69,559.98 L68.89,559.57 L69.09,559.16 L69.29,558.75 L69.49,558.34 L70.39,556.51 L71.29,554.68 L72.19,552.86 L73.09,551.04 L73.99,549.24 L74.89,547.45 L75.79,545.67 L76.69,543.91 L77.59,542.16 L78.49,540.42 L79.39,538.71 L80.29,537.01 L81.19,535.33 L82.09,533.67 L82.99,532.03 L83.89,530.41 L84.78,528.82 L85.68,527.24 L86.58,525.69 L87.48,524.16 L88.38,522.65 L89.28,521.17 L90.18,519.72 L91.08,518.28 L91.98,516.88 L92.88,515.50 L93.78,514.14 L94.68,512.81 L95.58,511.50 L96.48,510.22 L97.38,508.96 L98.28,507.73 L99.18,506.53 L100.08,505.35 L100.98,504.19 L101.88,503.06 L102.78,501.96 L103.68,500.87 L104.58,499.82 L105.48,498.79 L106.38,497.78 L107.28,496.79 L108.18,495.83 L109.08,494.89 L109.98,493.97 L110.88,493.08 L111.78,492.21 L112.68,491.36 L113.58,490.53 L114.47,489.72 L115.37,488.93 L116.27,488.17 L117.17,487.42 L118.07,486.69 L118.97,485.98 L119.87,485.29 L120.77,484.62 L121.67,483.97 L122.57,483.33 L123.47,482.72 L124.37,482.11 L125.27,481.53 L126.17,480.96 L127.07,480.41 L127.97,479.87 L128.87,479.35 L129.77,478.84 L130.67,478.34 L131.57,477.86 L132.47,477.40 L133.37,476.94 L134.27,476.50 L135.17,476.08 L136.07,475.66 L136.97,475.26 L137.87,474.87 L138.77,474.49 L139.67,474.12 L140.57,473.76 L141.47,473.41 L142.37,473.07 L143.27,472.74 L144.17,472.43 L145.06,472.12 L145.96,471.82 L146.86,471.52 L147.76,471.24 L148.66,470.97 L149.56,470.70 L150.46,470.44 L151.36,470.19 L152.26,469.95 L153.16,469.71 L154.06,469.48 L154.96,469.26 L155.86,469.04 L156.76,468.83 L157.66,468.63 L158.56,468.43 L159.46,468.24 L160.36,468.05 L161.26,467.87 L162.16,467.70 L163.06,467.53 L163.96,467.36 L164.86,467.20 L165.76,467.05 L166.66,466.89 L167.56,466.75 L168.46,466.60 L169.36,466.47 L170.26,466.33 L171.16,466.20 L172.06,466.08 L172.96,465.95 L173.86,465.83 L174.75,465.72 L175.65,465.60 L176.55,465.50 L177.45,465.39 L178.35,465.29 L179.25,465.19 L180.15,465.09 L181.05,464.99 L181.95,464.90 L182.85,464.81 L183.75,464.73 L184.65,464.64 L185.55,464.56 L186.45,464.48 L187.35,464.40 L188.25,464.33 L189.15,464.26 L190.05,464.18 L190.95,464.12 L191.85,464.05 L192.75,463.98 L193.65,463.92 L194.55,463.86 L195.45,463.80 L196.35,463.74 L197.25,463.68 L198.15,463.63 L199.05,463.57 L199.95,463.52 L200.85,463.47 L201.75,463.42 L202.65,463.37 L203.55,463.33 L204.44,463.28 L205.34,463.24 L206.24,463.19 L207.14,463.15 L208.04,463.11 L208.94,463.07 L209.84,463.03 L210.74,463.00 L211.64,462.96 L212.54,462.92 L213.44,462.89 L214.34,462.85 L215.24,462.82 L216.14,462.79 L217.04,462.76 L217.94,462.73 L218.84,462.70 L219.74,462.67 L220.64,462.64 L221.54,462.61 L222.44,462.59 L223.34,462.56 L224.24,462.54 L225.14,462.51 L226.04,462.49 L226.94,462.46 L227.84,462.44 L228.74,462.42 L229.64,462.40 L230.54,462.38 L231.44,462.36 L232.34,462.34 L233.24,462.32 L234.13,462.30 L235.03,462.28 L235.93,462.26 L236.83,462.24 L237.73,462.23 L238.63,462.21 L239.53,462.19 L240.43,462.18 L241.33,462.16 L242.23,462.15 L243.13,462.13 L244.03,462.12 L244.93,462.10 L245.83,462.09 L246.73,462.07 L247.63,462.06 L248.53,462.05 L249.43,462.03 L250.33,462.02 L251.23,462.01 L252.13,461.99 L253.03,461.98 L253.93,461.97 L254.83,461.96 L255.73,461.94 L256.63,461.93 L257.53,461.92 L258.43,461.91 L259.33,461.90 L260.23,461.88 L261.13,461.87 L262.03,461.86 L262.93,461.85 L263.82,461.84 L264.72,461.83 L265.62,461.82 L266.52,461.81 L267.42,461.80 L268.32,461.79 L269.22,461.78 L270.12,461.77 L271.02,461.76 L271.92,461.75 L272.82,461.74 L273.72,461.73 L274.62,461.72 L275.52,461.71 L276.42,461.70 L277.32,461.69 L278.22,461.68 L279.12,461.67 L280.02,461.66 L280.92,461.65 L281.82,461.65 L282.72,461.64 L283.62,461.63 L284.52,461.62 L285.42,461.61 L286.32,461.60 L287.22,461.60 L288.12,461.59 L289.02,461.58 L289.92,461.57 L290.82,461.56 L291.72,461.56 L292.62,461.55 L293.52,461.54 L294.41,461.53 L295.31,461.53 L296.21,461.52 L297.11,461.51 L298.01,461.51 L298.91,461.50 L299.81,461.49 L300.71,461.49 L301.61,461.48 L302.51,461.47 L303.41,461.47 L304.31,461.46 L305.21,461.45 L306.11,461.45 L307.01,461.44 L307.91,461.43 L308.81,461.43 L309.71,461.42 L310.61,461.42 L311.51,461.41 L312.41,461.40 L313.31,461.40 L314.21,461.39 L315.11,461.39 L316.01,461.38 L316.91,461.38 L317.81,461.37 L318.71,461.36 L319.61,461.36 L320.51,461.35 L321.41,461.35 L322.31,461.34 L323.21,461.34 L324.10,461.33 L325.00,461.33 L325.90,461.32 L326.80,461.32 L327.70,461.31 L328.60,461.31 L329.50,461.30 L330.40,461.30 L331.30,461.29 L332.20,461.29 L333.10,461.29 L334.00,461.28 L334.90,461.28 L335.80,461.27 L336.70,461.27 L337.60,461.26 L338.50,461.26" fill="none" stroke="#d33a3a" stroke-width="1.1" stroke-linejoin="round"/>
<text x="0" y="0" font-size="9.1" text-anchor="start" fill="#454545" color="#454545" font-weight="normal" transform="translate(130.00 618.40) scale(1 1.050)">USGS</text>
<text x="0" y="0" font-size="9.1" text-anchor="start" fill="#454545" color="#454545" font-weight="normal" transform="translate(130.00 629.80) scale(1 1.050)">(0.06 mg/L)</text>
<text x="0" y="0" font-size="9.15" text-anchor="middle" fill="#2b2b2b" color="#2b2b2b" font-weight="normal" transform="translate(177.20 672.20) scale(1 1.050)">Lithium "Li" (mg/L)</text>
<text x="0" y="0" font-size="9.1" text-anchor="middle" fill="#2b2b2b" color="#2b2b2b" font-weight="normal" transform="translate(9.00 547.85) rotate(-90) scale(1 1.050)">Probability</text>
</g>
<text x="0" y="0" font-size="10.5" text-anchor="start" fill="#111" color="#111" font-weight="bold" transform="translate(8.50 672.00)">(e)</text>
<line x1="375.50" y1="638.70" x2="378.50" y2="638.70" stroke="#8a8a8a" stroke-width="1"/>
<text x="0" y="0" font-size="9.1" text-anchor="end" fill="#2b2b2b" color="#2b2b2b" font-weight="normal" transform="translate(370.50 641.90) scale(1 1.050)">0.0</text>
<line x1="375.50" y1="621.23" x2="378.50" y2="621.23" stroke="#8a8a8a" stroke-width="1"/>
<text x="0" y="0" font-size="9.1" text-anchor="end" fill="#2b2b2b" color="#2b2b2b" font-weight="normal" transform="translate(370.50 624.43) scale(1 1.050)">0.1</text>
<line x1="375.50" y1="603.76" x2="378.50" y2="603.76" stroke="#8a8a8a" stroke-width="1"/>
<text x="0" y="0" font-size="9.1" text-anchor="end" fill="#2b2b2b" color="#2b2b2b" font-weight="normal" transform="translate(370.50 606.96) scale(1 1.050)">0.2</text>
<line x1="375.50" y1="586.29" x2="378.50" y2="586.29" stroke="#8a8a8a" stroke-width="1"/>
<text x="0" y="0" font-size="9.1" text-anchor="end" fill="#2b2b2b" color="#2b2b2b" font-weight="normal" transform="translate(370.50 589.49) scale(1 1.050)">0.3</text>
<line x1="375.50" y1="568.82" x2="378.50" y2="568.82" stroke="#8a8a8a" stroke-width="1"/>
<text x="0" y="0" font-size="9.1" text-anchor="end" fill="#2b2b2b" color="#2b2b2b" font-weight="normal" transform="translate(370.50 572.02) scale(1 1.050)">0.4</text>
<line x1="375.50" y1="551.35" x2="378.50" y2="551.35" stroke="#8a8a8a" stroke-width="1"/>
<text x="0" y="0" font-size="9.1" text-anchor="end" fill="#2b2b2b" color="#2b2b2b" font-weight="normal" transform="translate(370.50 554.55) scale(1 1.050)">0.5</text>
<line x1="375.50" y1="533.88" x2="378.50" y2="533.88" stroke="#8a8a8a" stroke-width="1"/>
<text x="0" y="0" font-size="9.1" text-anchor="end" fill="#2b2b2b" color="#2b2b2b" font-weight="normal" transform="translate(370.50 537.08) scale(1 1.050)">0.6</text>
<line x1="375.50" y1="516.41" x2="378.50" y2="516.41" stroke="#8a8a8a" stroke-width="1"/>
<text x="0" y="0" font-size="9.1" text-anchor="end" fill="#2b2b2b" color="#2b2b2b" font-weight="normal" transform="translate(370.50 519.61) scale(1 1.050)">0.7</text>
<line x1="375.50" y1="498.94" x2="378.50" y2="498.94" stroke="#8a8a8a" stroke-width="1"/>
<text x="0" y="0" font-size="9.1" text-anchor="end" fill="#2b2b2b" color="#2b2b2b" font-weight="normal" transform="translate(370.50 502.14) scale(1 1.050)">0.8</text>
<line x1="375.50" y1="481.47" x2="378.50" y2="481.47" stroke="#8a8a8a" stroke-width="1"/>
<text x="0" y="0" font-size="9.1" text-anchor="end" fill="#2b2b2b" color="#2b2b2b" font-weight="normal" transform="translate(370.50 484.67) scale(1 1.050)">0.9</text>
<line x1="375.50" y1="464.00" x2="378.50" y2="464.00" stroke="#8a8a8a" stroke-width="1"/>
<text x="0" y="0" font-size="9.1" text-anchor="end" fill="#2b2b2b" color="#2b2b2b" font-weight="normal" transform="translate(370.50 467.20) scale(1 1.050)">1.0</text>
<line x1="378.50" y1="638.70" x2="378.50" y2="641.70" stroke="#8a8a8a" stroke-width="1"/>
<text x="0" y="0" font-size="9.1" text-anchor="middle" fill="#2b2b2b" color="#2b2b2b" font-weight="normal" transform="translate(378.50 652.20) scale(1 1.050)">0.00</text>
<line x1="408.00" y1="638.70" x2="408.00" y2="641.70" stroke="#8a8a8a" stroke-width="1"/>
<text x="0" y="0" font-size="9.1" text-anchor="middle" fill="#2b2b2b" color="#2b2b2b" font-weight="normal" transform="translate(408.00 652.20) scale(1 1.050)">0.01</text>
<line x1="437.50" y1="638.70" x2="437.50" y2="641.70" stroke="#8a8a8a" stroke-width="1"/>
<text x="0" y="0" font-size="9.1" text-anchor="middle" fill="#2b2b2b" color="#2b2b2b" font-weight="normal" transform="translate(437.50 652.20) scale(1 1.050)">0.02</text>
<line x1="467.00" y1="638.70" x2="467.00" y2="641.70" stroke="#8a8a8a" stroke-width="1"/>
<text x="0" y="0" font-size="9.1" text-anchor="middle" fill="#2b2b2b" color="#2b2b2b" font-weight="normal" transform="translate(467.00 652.20) scale(1 1.050)">0.03</text>
<line x1="496.50" y1="638.70" x2="496.50" y2="641.70" stroke="#8a8a8a" stroke-width="1"/>
<text x="0" y="0" font-size="9.1" text-anchor="middle" fill="#2b2b2b" color="#2b2b2b" font-weight="normal" transform="translate(496.50 652.20) scale(1 1.050)">0.04</text>
<line x1="526.00" y1="638.70" x2="526.00" y2="641.70" stroke="#8a8a8a" stroke-width="1"/>
<text x="0" y="0" font-size="9.1" text-anchor="middle" fill="#2b2b2b" color="#2b2b2b" font-weight="normal" transform="translate(526.00 652.20) scale(1 1.050)">0.05</text>
<line x1="555.50" y1="638.70" x2="555.50" y2="641.70" stroke="#8a8a8a" stroke-width="1"/>
<text x="0" y="0" font-size="9.1" text-anchor="middle" fill="#2b2b2b" color="#2b2b2b" font-weight="normal" transform="translate(555.50 652.20) scale(1 1.050)">0.06</text>
<line x1="585.00" y1="638.70" x2="585.00" y2="641.70" stroke="#8a8a8a" stroke-width="1"/>
<text x="0" y="0" font-size="9.1" text-anchor="middle" fill="#2b2b2b" color="#2b2b2b" font-weight="normal" transform="translate(585.00 652.20) scale(1 1.050)">0.07</text>
<line x1="614.50" y1="638.70" x2="614.50" y2="641.70" stroke="#8a8a8a" stroke-width="1"/>
<text x="0" y="0" font-size="9.1" text-anchor="middle" fill="#2b2b2b" color="#2b2b2b" font-weight="normal" transform="translate(614.50 652.20) scale(1 1.050)">0.08</text>
<line x1="644.00" y1="638.70" x2="644.00" y2="641.70" stroke="#8a8a8a" stroke-width="1"/>
<text x="0" y="0" font-size="9.1" text-anchor="middle" fill="#2b2b2b" color="#2b2b2b" font-weight="normal" transform="translate(644.00 652.20) scale(1 1.050)">0.09</text>
<line x1="673.50" y1="638.70" x2="673.50" y2="641.70" stroke="#8a8a8a" stroke-width="1"/>
<text x="0" y="0" font-size="9.1" text-anchor="middle" fill="#2b2b2b" color="#2b2b2b" font-weight="normal" transform="translate(673.50 652.20) scale(1 1.050)">0.10</text>
<line x1="673.50" y1="464.00" x2="673.50" y2="638.70" stroke="#c4c4c4" stroke-width="1.5"/>
<line x1="378.50" y1="464.00" x2="674.00" y2="464.00" stroke="#c4c4c4" stroke-width="1.6"/>
<line x1="378.50" y1="463.50" x2="378.50" y2="639.20" stroke="#888" stroke-width="1"/>
<line x1="378.00" y1="638.70" x2="674.00" y2="638.70" stroke="#aaa" stroke-width="1.4"/>
<path d="M378.50,638.70 L378.50,621.40 L381.10,608.79 L381.30,607.80 L381.49,606.85 L381.69,605.92 L381.88,605.02 L382.08,604.13 L382.28,603.28 L382.47,602.44 L382.67,601.61 L382.87,600.81 L383.06,600.02 L383.26,599.24 L383.45,598.48 L383.65,597.73 L383.85,596.99 L384.04,596.26 L384.24,595.54 L384.44,594.83 L384.63,594.13 L384.83,593.44 L385.02,592.75 L385.22,592.07 L385.42,591.40 L385.61,590.74 L385.81,590.08 L386.01,589.43 L386.20,588.78 L386.40,588.14 L386.59,587.50 L386.79,586.87 L386.99,586.24 L387.18,585.62 L387.38,585.00 L387.58,584.39 L387.77,583.78 L387.97,583.18 L388.16,582.57 L388.36,581.98 L388.56,581.38 L388.75,580.79 L388.95,580.20 L389.15,579.62 L389.34,579.04 L389.54,578.46 L389.73,577.88 L389.93,577.31 L390.13,576.74 L390.32,576.18 L390.52,575.61 L390.72,575.05 L390.91,574.50 L391.11,573.94 L391.30,573.39 L391.50,572.84 L391.70,572.29 L391.89,571.75 L392.09,571.20 L392.29,570.66 L392.48,570.13 L392.68,569.59 L392.87,569.06 L393.07,568.53 L393.27,568.00 L393.46,567.48 L393.66,566.95 L393.86,566.43 L394.05,565.91 L394.25,565.39 L394.44,564.88 L394.64,564.37 L394.84,563.86 L395.03,563.35 L395.23,562.84 L395.43,562.34 L395.62,561.84 L395.82,561.34 L396.01,560.84 L396.21,560.34 L396.41,559.85 L396.60,559.36 L396.80,558.87 L397.00,558.38 L397.19,557.90 L397.39,557.41 L397.58,556.93 L397.78,556.45 L397.98,555.98 L398.17,555.50 L398.37,555.03 L398.57,554.56 L398.76,554.09 L398.96,553.62 L399.15,553.15 L399.35,552.69 L399.55,552.23 L399.74,551.77 L399.94,551.31 L400.14,550.86 L400.33,550.40 L400.53,549.95 L400.72,549.50 L400.92,549.05 L401.12,548.61 L401.31,548.16 L401.51,547.72 L401.71,547.28 L401.90,546.84 L402.10,546.40 L402.29,545.97 L402.49,545.53 L402.69,545.10 L402.88,544.67 L403.08,544.25 L403.28,543.82 L403.47,543.40 L403.67,542.97 L403.86,542.55 L404.06,542.14 L404.26,541.72 L404.45,541.31 L404.65,540.89 L404.85,540.48 L405.04,540.07 L405.24,539.66 L405.43,539.26 L405.63,538.86 L405.83,538.45 L406.02,538.05 L406.22,537.65 L406.42,537.26 L406.61,536.86 L406.81,536.47 L407.00,536.08 L407.20,535.69 L407.40,535.30 L407.59,534.92 L407.79,534.53 L407.99,534.15 L408.18,533.77 L408.38,533.39 L408.57,533.01 L408.77,532.64 L408.97,532.26 L409.16,531.89 L409.36,531.52 L409.56,531.15 L409.75,530.79 L409.95,530.42 L410.14,530.06 L410.34,529.70 L411.22,528.10 L412.10,526.53 L412.98,524.99 L413.86,523.49 L414.74,522.03 L415.62,520.59 L416.50,519.19 L417.38,517.81 L418.26,516.47 L419.14,515.16 L420.02,513.88 L420.90,512.62 L421.78,511.40 L422.66,510.21 L423.54,509.04 L424.42,507.90 L425.30,506.79 L426.18,505.70 L427.06,504.64 L427.94,503.61 L428.82,502.60 L429.70,501.61 L430.58,500.65 L431.46,499.72 L432.34,498.80 L433.22,497.91 L434.10,497.04 L434.98,496.20 L435.86,495.37 L436.74,494.57 L437.62,493.78 L438.50,493.02 L439.38,492.27 L440.26,491.54 L441.14,490.84 L442.02,490.15 L442.90,489.48 L443.79,488.82 L444.67,488.18 L445.55,487.56 L446.43,486.96 L447.31,486.37 L448.19,485.80 L449.07,485.24 L449.95,484.69 L450.83,484.16 L451.71,483.65 L452.59,483.15 L453.47,482.66 L454.35,482.18 L455.23,481.72 L456.11,481.27 L456.99,480.83 L457.87,480.40 L458.75,479.98 L459.63,479.58 L460.51,479.18 L461.39,478.80 L462.27,478.43 L463.15,478.06 L464.03,477.71 L464.91,477.36 L465.79,477.03 L466.67,476.70 L467.55,476.39 L468.43,476.08 L469.31,475.77 L470.19,475.48 L471.07,475.20 L471.95,474.92 L472.83,474.65 L473.71,474.39 L474.59,474.13 L475.47,473.88 L476.35,473.64 L477.23,473.40 L478.11,473.17 L478.99,472.95 L479.87,472.73 L480.75,472.52 L481.63,472.31 L482.51,472.11 L483.39,471.92 L484.27,471.73 L485.15,471.54 L486.03,471.36 L486.91,471.18 L487.79,471.01 L488.67,470.85 L489.55,470.69 L490.43,470.53 L491.31,470.37 L492.19,470.22 L493.07,470.08 L493.95,469.94 L494.83,469.80 L495.71,469.66 L496.59,469.53 L497.47,469.40 L498.35,469.28 L499.23,469.16 L500.11,469.04 L500.99,468.93 L501.87,468.81 L502.75,468.71 L503.63,468.60 L504.51,468.50 L505.39,468.39 L506.27,468.30 L507.15,468.20 L508.03,468.11 L508.91,468.02 L509.80,467.93 L510.68,467.84 L511.56,467.76 L512.44,467.67 L513.32,467.59 L514.20,467.52 L515.08,467.44 L515.96,467.37 L516.84,467.29 L517.72,467.22 L518.60,467.16 L519.48,467.09 L520.36,467.02 L521.24,466.96 L522.12,466.90 L523.00,466.84 L523.88,466.78 L524.76,466.72 L525.64,466.66 L526.52,466.61 L527.40,466.56 L528.28,466.50 L529.16,466.45 L530.04,466.40 L530.92,466.35 L531.80,466.31 L532.68,466.26 L533.56,466.22 L534.44,466.17 L535.32,466.13 L536.20,466.09 L537.08,466.05 L537.96,466.01 L538.84,465.97 L539.72,465.93 L540.60,465.89 L541.48,465.85 L542.36,465.82 L543.24,465.78 L544.12,465.75 L545.00,465.72 L545.88,465.69 L546.76,465.65 L547.64,465.62 L548.52,465.59 L549.40,465.56 L550.28,465.54 L551.16,465.51 L552.04,465.48 L552.92,465.45 L553.80,465.43 L554.68,465.40 L555.56,465.38 L556.44,465.35 L557.32,465.33 L558.20,465.30 L559.08,465.28 L559.96,465.26 L560.84,465.24 L561.72,465.22 L562.60,465.19 L563.48,465.17 L564.36,465.15 L565.24,465.13 L566.12,465.12 L567.00,465.10 L567.88,465.08 L568.76,465.06 L569.64,465.04 L570.52,465.03 L571.40,465.01 L572.28,464.99 L573.16,464.98 L574.04,464.96 L574.93,464.95 L575.81,464.93 L576.69,464.92 L577.57,464.90 L578.45,464.89 L579.33,464.87 L580.21,464.86 L581.09,464.84 L581.97,464.83 L582.85,464.82 L583.73,464.80 L584.61,464.79 L585.49,464.78 L586.37,464.77 L587.25,464.75 L588.13,464.74 L589.01,464.73 L589.89,464.72 L590.77,464.71 L591.65,464.70 L592.53,464.69 L593.41,464.68 L594.29,464.66 L595.17,464.65 L596.05,464.64 L596.93,464.63 L597.81,464.62 L598.69,464.61 L599.57,464.60 L600.45,464.60 L601.33,464.59 L602.21,464.58 L603.09,464.57 L603.97,464.56 L604.85,464.55 L605.73,464.54 L606.61,464.53 L607.49,464.53 L608.37,464.52 L609.25,464.51 L610.13,464.50 L611.01,464.49 L611.89,464.49 L612.77,464.48 L613.65,464.47 L614.53,464.46 L615.41,464.46 L616.29,464.45 L617.17,464.44 L618.05,464.44 L618.93,464.43 L619.81,464.42 L620.69,464.42 L621.57,464.41 L622.45,464.40 L623.33,464.40 L624.21,464.39 L625.09,464.39 L625.97,464.38 L626.85,464.37 L627.73,464.37 L628.61,464.36 L629.49,464.36 L630.37,464.35 L631.25,464.35 L632.13,464.34 L633.01,464.34 L633.89,464.33 L634.77,464.33 L635.65,464.32 L636.53,464.32 L637.41,464.31 L638.29,464.31 L639.17,464.30 L640.05,464.30 L640.94,464.29 L641.82,464.29 L642.70,464.29 L643.58,464.28 L644.46,464.28 L645.34,464.27 L646.22,464.27 L647.10,464.27 L647.98,464.26 L648.86,464.26 L649.74,464.25 L650.62,464.25 L651.50,464.25 L652.38,464.24 L653.26,464.24 L654.14,464.24 L655.02,464.23 L655.90,464.23 L656.78,464.23 L657.66,464.22 L658.54,464.22 L659.42,464.22 L660.30,464.21 L661.18,464.21 L662.06,464.21 L662.94,464.20 L663.82,464.20 L664.70,464.20 L665.58,464.19 L666.46,464.19 L667.34,464.19 L668.22,464.19 L669.10,464.18 L669.98,464.18 L670.86,464.18 L671.74,464.18 L672.62,464.17 L673.50,464.17" fill="none" stroke="#d33a3a" stroke-width="1.1" stroke-linejoin="round"/>
<text x="0" y="0" font-size="9.1" text-anchor="end" fill="#454545" color="#454545" font-weight="normal" transform="translate(668.00 618.00) scale(1 1.050)">HC</text>
<text x="0" y="0" font-size="9.1" text-anchor="end" fill="#454545" color="#454545" font-weight="normal" transform="translate(668.00 629.20) scale(1 1.050)">(0.10 mg/L)</text>
<text x="0" y="0" font-size="9.15" text-anchor="middle" fill="#2b2b2b" color="#2b2b2b" font-weight="normal" transform="translate(521.20 667.20) scale(1 1.050)">Manganese "Mn" (mg/L)</text>
<text x="0" y="0" font-size="9.1" text-anchor="middle" fill="#2b2b2b" color="#2b2b2b" font-weight="normal" transform="translate(354.00 551.00) rotate(-90) scale(1 1.050)">Probability</text>
<text x="0" y="0" font-size="10.5" text-anchor="start" fill="#111" color="#111" font-weight="bold" transform="translate(347.80 662.60)">(f)</text>
<g clip-path="url(#cg)">
<line x1="33.50" y1="881.50" x2="36.50" y2="881.50" stroke="#8a8a8a" stroke-width="1"/>
<text x="0" y="0" font-size="9.1" text-anchor="end" fill="#2b2b2b" color="#2b2b2b" font-weight="normal" transform="translate(28.50 884.70) scale(1 1.050)">0.0</text>
<line x1="33.50" y1="862.20" x2="36.50" y2="862.20" stroke="#8a8a8a" stroke-width="1"/>
<text x="0" y="0" font-size="9.1" text-anchor="end" fill="#2b2b2b" color="#2b2b2b" font-weight="normal" transform="translate(28.50 865.40) scale(1 1.050)">0.1</text>
<line x1="33.50" y1="842.90" x2="36.50" y2="842.90" stroke="#8a8a8a" stroke-width="1"/>
<text x="0" y="0" font-size="9.1" text-anchor="end" fill="#2b2b2b" color="#2b2b2b" font-weight="normal" transform="translate(28.50 846.10) scale(1 1.050)">0.2</text>
<line x1="33.50" y1="823.60" x2="36.50" y2="823.60" stroke="#8a8a8a" stroke-width="1"/>
<text x="0" y="0" font-size="9.1" text-anchor="end" fill="#2b2b2b" color="#2b2b2b" font-weight="normal" transform="translate(28.50 826.80) scale(1 1.050)">0.3</text>
<line x1="33.50" y1="804.30" x2="36.50" y2="804.30" stroke="#8a8a8a" stroke-width="1"/>
<text x="0" y="0" font-size="9.1" text-anchor="end" fill="#2b2b2b" color="#2b2b2b" font-weight="normal" transform="translate(28.50 807.50) scale(1 1.050)">0.4</text>
<line x1="33.50" y1="785.00" x2="36.50" y2="785.00" stroke="#8a8a8a" stroke-width="1"/>
<text x="0" y="0" font-size="9.1" text-anchor="end" fill="#2b2b2b" color="#2b2b2b" font-weight="normal" transform="translate(28.50 788.20) scale(1 1.050)">0.5</text>
<line x1="33.50" y1="765.70" x2="36.50" y2="765.70" stroke="#8a8a8a" stroke-width="1"/>
<text x="0" y="0" font-size="9.1" text-anchor="end" fill="#2b2b2b" color="#2b2b2b" font-weight="normal" transform="translate(28.50 768.90) scale(1 1.050)">0.6</text>
<line x1="33.50" y1="746.40" x2="36.50" y2="746.40" stroke="#8a8a8a" stroke-width="1"/>
<text x="0" y="0" font-size="9.1" text-anchor="end" fill="#2b2b2b" color="#2b2b2b" font-weight="normal" transform="translate(28.50 749.60) scale(1 1.050)">0.7</text>
<line x1="33.50" y1="727.10" x2="36.50" y2="727.10" stroke="#8a8a8a" stroke-width="1"/>
<text x="0" y="0" font-size="9.1" text-anchor="end" fill="#2b2b2b" color="#2b2b2b" font-weight="normal" transform="translate(28.50 730.30) scale(1 1.050)">0.8</text>
<line x1="33.50" y1="707.80" x2="36.50" y2="707.80" stroke="#8a8a8a" stroke-width="1"/>
<text x="0" y="0" font-size="9.1" text-anchor="end" fill="#2b2b2b" color="#2b2b2b" font-weight="normal" transform="translate(28.50 711.00) scale(1 1.050)">0.9</text>
<line x1="33.50" y1="688.50" x2="36.50" y2="688.50" stroke="#8a8a8a" stroke-width="1"/>
<text x="0" y="0" font-size="9.1" text-anchor="end" fill="#2b2b2b" color="#2b2b2b" font-weight="normal" transform="translate(28.50 691.70) scale(1 1.050)">1.0</text>
<line x1="36.50" y1="881.50" x2="36.50" y2="884.50" stroke="#8a8a8a" stroke-width="1"/>
<text x="0" y="0" font-size="9.1" text-anchor="middle" fill="#2b2b2b" color="#2b2b2b" font-weight="normal" transform="translate(36.50 895.60) scale(1 1.050)">0</text>
<line x1="80.50" y1="881.50" x2="80.50" y2="884.50" stroke="#8a8a8a" stroke-width="1"/>
<text x="0" y="0" font-size="9.1" text-anchor="middle" fill="#2b2b2b" color="#2b2b2b" font-weight="normal" transform="translate(80.50 895.60) scale(1 1.050)">5</text>
<line x1="124.50" y1="881.50" x2="124.50" y2="884.50" stroke="#8a8a8a" stroke-width="1"/>
<text x="0" y="0" font-size="9.1" text-anchor="middle" fill="#2b2b2b" color="#2b2b2b" font-weight="normal" transform="translate(124.50 895.60) scale(1 1.050)">10</text>
<line x1="168.50" y1="881.50" x2="168.50" y2="884.50" stroke="#8a8a8a" stroke-width="1"/>
<text x="0" y="0" font-size="9.1" text-anchor="middle" fill="#2b2b2b" color="#2b2b2b" font-weight="normal" transform="translate(168.50 895.60) scale(1 1.050)">15</text>
<line x1="212.50" y1="881.50" x2="212.50" y2="884.50" stroke="#8a8a8a" stroke-width="1"/>
<text x="0" y="0" font-size="9.1" text-anchor="middle" fill="#2b2b2b" color="#2b2b2b" font-weight="normal" transform="translate(212.50 895.60) scale(1 1.050)">20</text>
<line x1="256.50" y1="881.50" x2="256.50" y2="884.50" stroke="#8a8a8a" stroke-width="1"/>
<text x="0" y="0" font-size="9.1" text-anchor="middle" fill="#2b2b2b" color="#2b2b2b" font-weight="normal" transform="translate(256.50 895.60) scale(1 1.050)">25</text>
<line x1="300.50" y1="881.50" x2="300.50" y2="884.50" stroke="#8a8a8a" stroke-width="1"/>
<text x="0" y="0" font-size="9.1" text-anchor="middle" fill="#2b2b2b" color="#2b2b2b" font-weight="normal" transform="translate(300.50 895.60) scale(1 1.050)">30</text>
<line x1="344.50" y1="881.50" x2="344.50" y2="884.50" stroke="#8a8a8a" stroke-width="1"/>
<text x="0" y="0" font-size="9.1" text-anchor="middle" fill="#2b2b2b" color="#2b2b2b" font-weight="normal" transform="translate(344.50 895.60) scale(1 1.050)">35</text>
<line x1="344.50" y1="688.50" x2="344.50" y2="881.50" stroke="#999" stroke-width="1"/>
<line x1="36.50" y1="688.50" x2="345.00" y2="688.50" stroke="#5a5a5a" stroke-width="1"/>
<line x1="36.50" y1="688.00" x2="36.50" y2="882.00" stroke="#888" stroke-width="1"/>
<line x1="36.00" y1="881.50" x2="345.00" y2="881.50" stroke="#8a8a8a" stroke-width="1.4"/>
<line x1="97.50" y1="744.60" x2="97.50" y2="880.90" stroke="#3d78bd" stroke-width="1" stroke-dasharray="2,1"/>
<line x1="45.50" y1="744.50" x2="97.50" y2="744.50" stroke="#3a7cc4" stroke-width="1.3" stroke-dasharray="2,1"/>
<path d="M37.00,744.50 L46.00,741.40 L46.00,747.60 Z" fill="#0a6cc0"/>
<path d="M36.50,881.50 L46.60,881.50 L49.60,868.90 L49.80,867.77 L50.00,866.65 L50.19,865.55 L50.39,864.47 L50.59,863.41 L50.79,862.37 L50.99,861.35 L51.18,860.35 L51.38,859.36 L51.58,858.40 L51.78,857.44 L51.98,856.51 L52.17,855.59 L52.37,854.68 L52.57,853.79 L52.77,852.91 L52.96,852.04 L53.16,851.18 L53.36,850.34 L53.56,849.50 L53.76,848.68 L53.95,847.87 L54.15,847.06 L54.35,846.27 L54.55,845.48 L54.75,844.70 L54.94,843.93 L55.14,843.17 L55.34,842.42 L55.54,841.67 L55.74,840.93 L55.93,840.19 L56.13,839.46 L56.33,838.74 L56.53,838.03 L56.73,837.31 L56.92,836.61 L57.12,835.91 L57.32,835.22 L57.52,834.53 L57.71,833.84 L57.91,833.16 L58.11,832.49 L58.31,831.82 L58.51,831.15 L58.70,830.49 L58.90,829.83 L59.10,829.18 L59.30,828.53 L59.50,827.88 L59.69,827.24 L59.89,826.60 L60.09,825.97 L60.29,825.34 L60.49,824.71 L60.68,824.09 L60.88,823.47 L61.08,822.85 L61.28,822.23 L61.48,821.62 L61.67,821.01 L61.87,820.41 L62.07,819.81 L62.27,819.21 L62.46,818.61 L62.66,818.02 L62.86,817.43 L63.06,816.84 L63.26,816.25 L63.45,815.67 L63.65,815.09 L63.85,814.52 L64.05,813.94 L64.25,813.37 L64.44,812.80 L64.64,812.23 L64.84,811.67 L65.04,811.11 L65.24,810.55 L65.43,809.99 L65.63,809.43 L65.83,808.88 L66.03,808.33 L66.23,807.78 L66.42,807.24 L66.62,806.70 L66.82,806.15 L67.02,805.62 L67.21,805.08 L67.41,804.54 L67.61,804.01 L67.81,803.48 L68.01,802.95 L68.20,802.43 L68.40,801.91 L68.60,801.38 L68.80,800.86 L69.00,800.35 L69.19,799.83 L69.39,799.32 L69.59,798.81 L69.79,798.30 L69.99,797.79 L70.18,797.29 L70.38,796.78 L70.58,796.28 L70.78,795.78 L70.98,795.29 L71.17,794.79 L71.37,794.30 L71.57,793.81 L71.77,793.32 L71.96,792.83 L72.16,792.34 L72.36,791.86 L72.56,791.38 L72.76,790.90 L72.95,790.42 L73.15,789.95 L73.35,789.47 L73.55,789.00 L73.75,788.53 L73.94,788.06 L74.14,787.59 L74.34,787.13 L74.54,786.67 L74.74,786.20 L74.93,785.75 L75.13,785.29 L75.33,784.83 L75.53,784.38 L75.73,783.93 L75.92,783.48 L76.12,783.03 L76.32,782.58 L76.52,782.13 L76.71,781.69 L76.91,781.25 L77.11,780.81 L77.31,780.37 L77.51,779.94 L77.70,779.50 L77.90,779.07 L78.10,778.64 L78.30,778.21 L78.50,777.78 L78.69,777.35 L78.89,776.93 L79.09,776.51 L79.98,774.63 L80.87,772.79 L81.75,770.99 L82.64,769.21 L83.53,767.47 L84.42,765.76 L85.30,764.08 L86.19,762.44 L87.08,760.82 L87.97,759.24 L88.85,757.68 L89.74,756.16 L90.63,754.66 L91.52,753.20 L92.40,751.76 L93.29,750.35 L94.18,748.97 L95.07,747.62 L95.96,746.29 L96.84,744.99 L97.73,743.72 L98.62,742.47 L99.51,741.25 L100.39,740.05 L101.28,738.88 L102.17,737.74 L103.06,736.61 L103.94,735.51 L104.83,734.44 L105.72,733.38 L106.61,732.35 L107.50,731.35 L108.38,730.36 L109.27,729.39 L110.16,728.45 L111.05,727.53 L111.93,726.62 L112.82,725.74 L113.71,724.87 L114.60,724.03 L115.48,723.20 L116.37,722.39 L117.26,721.60 L118.15,720.83 L119.03,720.08 L119.92,719.34 L120.81,718.62 L121.70,717.92 L122.59,717.23 L123.47,716.55 L124.36,715.90 L125.25,715.26 L126.14,714.63 L127.02,714.01 L127.91,713.42 L128.80,712.83 L129.69,712.26 L130.57,711.70 L131.46,711.16 L132.35,710.62 L133.24,710.11 L134.12,709.60 L135.01,709.10 L135.90,708.62 L136.79,708.15 L137.68,707.68 L138.56,707.23 L139.45,706.79 L140.34,706.36 L141.23,705.95 L142.11,705.54 L143.00,705.14 L143.89,704.75 L144.78,704.37 L145.66,703.99 L146.55,703.63 L147.44,703.28 L148.33,702.93 L149.22,702.60 L150.10,702.27 L150.99,701.95 L151.88,701.63 L152.77,701.33 L153.65,701.03 L154.54,700.74 L155.43,700.45 L156.32,700.17 L157.20,699.90 L158.09,699.64 L158.98,699.38 L159.87,699.13 L160.75,698.88 L161.64,698.64 L162.53,698.41 L163.42,698.18 L164.31,697.96 L165.19,697.74 L166.08,697.53 L166.97,697.32 L167.86,697.12 L168.74,696.92 L169.63,696.73 L170.52,696.54 L171.41,696.36 L172.29,696.18 L173.18,696.01 L174.07,695.84 L174.96,695.67 L175.84,695.51 L176.73,695.35 L177.62,695.20 L178.51,695.05 L179.40,694.90 L180.28,694.76 L181.17,694.62 L182.06,694.48 L182.95,694.35 L183.83,694.22 L184.72,694.09 L185.61,693.96 L186.50,693.84 L187.38,693.72 L188.27,693.61 L189.16,693.50 L190.05,693.39 L190.94,693.28 L191.82,693.17 L192.71,693.07 L193.60,692.97 L194.49,692.88 L195.37,692.78 L196.26,692.69 L197.15,692.60 L198.04,692.51 L198.92,692.42 L199.81,692.34 L200.70,692.26 L201.59,692.18 L202.47,692.10 L203.36,692.02 L204.25,691.94 L205.14,691.87 L206.03,691.80 L206.91,691.73 L207.80,691.66 L208.69,691.60 L209.58,691.53 L210.46,691.47 L211.35,691.41 L212.24,691.35 L213.13,691.29 L214.01,691.23 L214.90,691.17 L215.79,691.12 L216.68,691.06 L217.56,691.01 L218.45,690.96 L219.34,690.91 L220.23,690.86 L221.12,690.81 L222.00,690.77 L222.89,690.72 L223.78,690.67 L224.67,690.63 L225.55,690.59 L226.44,690.55 L227.33,690.51 L228.22,690.47 L229.10,690.43 L229.99,690.39 L230.88,690.35 L231.77,690.32 L232.65,690.28 L233.54,690.24 L234.43,690.21 L235.32,690.18 L236.21,690.14 L237.09,690.11 L237.98,690.08 L238.87,690.05 L239.76,690.02 L240.64,689.99 L241.53,689.96 L242.42,689.93 L243.31,689.91 L244.19,689.88 L245.08,689.85 L245.97,689.83 L246.86,689.80 L247.75,689.78 L248.63,689.75 L249.52,689.73 L250.41,689.70 L251.30,689.68 L252.18,689.66 L253.07,689.64 L253.96,689.61 L254.85,689.59 L255.73,689.57 L256.62,689.55 L257.51,689.53 L258.40,689.51 L259.28,689.49 L260.17,689.47 L261.06,689.45 L261.95,689.44 L262.84,689.42 L263.72,689.40 L264.61,689.38 L265.50,689.37 L266.39,689.35 L267.27,689.33 L268.16,689.32 L269.05,689.30 L269.94,689.29 L270.82,689.27 L271.71,689.26 L272.60,689.24 L273.49,689.23 L274.37,689.22 L275.26,689.20 L276.15,689.19 L277.04,689.18 L277.93,689.16 L278.81,689.15 L279.70,689.14 L280.59,689.13 L281.48,689.11 L282.36,689.10 L283.25,689.09 L284.14,689.08 L285.03,689.07 L285.91,689.06 L286.80,689.05 L287.69,689.04 L288.58,689.03 L289.47,689.02 L290.35,689.01 L291.24,689.00 L292.13,688.99 L293.02,688.98 L293.90,688.97 L294.79,688.96 L295.68,688.95 L296.57,688.94 L297.45,688.94 L298.34,688.93 L299.23,688.92 L300.12,688.91 L301.00,688.90 L301.89,688.90 L302.78,688.89 L303.67,688.88 L304.56,688.87 L305.44,688.87 L306.33,688.86 L307.22,688.85 L308.11,688.85 L308.99,688.84 L309.88,688.83 L310.77,688.83 L311.66,688.82 L312.54,688.82 L313.43,688.81 L314.32,688.80 L315.21,688.80 L316.09,688.79 L316.98,688.79 L317.87,688.78 L318.76,688.78 L319.65,688.77 L320.53,688.77 L321.42,688.76 L322.31,688.76 L323.20,688.75 L324.08,688.75 L324.97,688.74 L325.86,688.74 L326.75,688.73 L327.63,688.73 L328.52,688.73 L329.41,688.72 L330.30,688.72 L331.19,688.71 L332.07,688.71 L332.96,688.71 L333.85,688.70 L334.74,688.70 L335.62,688.69 L336.51,688.69 L337.40,688.69 L338.29,688.68 L339.17,688.68 L340.06,688.68 L340.95,688.67 L341.84,688.67 L342.72,688.67 L343.61,688.66 L344.50,688.66" fill="none" stroke="#d33a3a" stroke-width="1.1" stroke-linejoin="round"/>
<text x="0" y="0" font-size="9.1" text-anchor="start" fill="#454545" color="#454545" font-weight="normal" transform="translate(105.00 862.40) scale(1 1.050)">HC</text>
<text x="0" y="0" font-size="9.1" text-anchor="start" fill="#454545" color="#454545" font-weight="normal" transform="translate(105.00 873.70) scale(1 1.050)">(7.0 mg/L)</text>
<text x="0" y="0" font-size="9.15" text-anchor="middle" fill="#2b2b2b" color="#2b2b2b" font-weight="normal" transform="translate(181.00 905.60) scale(1 1.050)">Strontium "Sr" (mg/L)</text>
<text x="0" y="0" font-size="9.1" text-anchor="middle" fill="#2b2b2b" color="#2b2b2b" font-weight="normal" transform="translate(11.10 781.00) rotate(-90) scale(1 1.050)">Probability</text>
</g>
<text x="0" y="0" font-size="10.5" text-anchor="start" fill="#111" color="#111" font-weight="bold" transform="translate(8.20 903.80)">(g)</text>
<line x1="377.50" y1="884.50" x2="380.50" y2="884.50" stroke="#8a8a8a" stroke-width="1"/>
<text x="0" y="0" font-size="9.1" text-anchor="end" fill="#2b2b2b" color="#2b2b2b" font-weight="normal" transform="translate(372.50 887.70) scale(1 1.050)">0.0</text>
<line x1="377.50" y1="865.20" x2="380.50" y2="865.20" stroke="#8a8a8a" stroke-width="1"/>
<text x="0" y="0" font-size="9.1" text-anchor="end" fill="#2b2b2b" color="#2b2b2b" font-weight="normal" transform="translate(372.50 868.40) scale(1 1.050)">0.1</text>
<line x1="377.50" y1="845.90" x2="380.50" y2="845.90" stroke="#8a8a8a" stroke-width="1"/>
<text x="0" y="0" font-size="9.1" text-anchor="end" fill="#2b2b2b" color="#2b2b2b" font-weight="normal" transform="translate(372.50 849.10) scale(1 1.050)">0.2</text>
<line x1="377.50" y1="826.60" x2="380.50" y2="826.60" stroke="#8a8a8a" stroke-width="1"/>
<text x="0" y="0" font-size="9.1" text-anchor="end" fill="#2b2b2b" color="#2b2b2b" font-weight="normal" transform="translate(372.50 829.80) scale(1 1.050)">0.3</text>
<line x1="377.50" y1="807.30" x2="380.50" y2="807.30" stroke="#8a8a8a" stroke-width="1"/>
<text x="0" y="0" font-size="9.1" text-anchor="end" fill="#2b2b2b" color="#2b2b2b" font-weight="normal" transform="translate(372.50 810.50) scale(1 1.050)">0.4</text>
<line x1="377.50" y1="788.00" x2="380.50" y2="788.00" stroke="#8a8a8a" stroke-width="1"/>
<text x="0" y="0" font-size="9.1" text-anchor="end" fill="#2b2b2b" color="#2b2b2b" font-weight="normal" transform="translate(372.50 791.20) scale(1 1.050)">0.5</text>
<line x1="377.50" y1="768.70" x2="380.50" y2="768.70" stroke="#8a8a8a" stroke-width="1"/>
<text x="0" y="0" font-size="9.1" text-anchor="end" fill="#2b2b2b" color="#2b2b2b" font-weight="normal" transform="translate(372.50 771.90) scale(1 1.050)">0.6</text>
<line x1="377.50" y1="749.40" x2="380.50" y2="749.40" stroke="#8a8a8a" stroke-width="1"/>
<text x="0" y="0" font-size="9.1" text-anchor="end" fill="#2b2b2b" color="#2b2b2b" font-weight="normal" transform="translate(372.50 752.60) scale(1 1.050)">0.7</text>
<line x1="377.50" y1="730.10" x2="380.50" y2="730.10" stroke="#8a8a8a" stroke-width="1"/>
<text x="0" y="0" font-size="9.1" text-anchor="end" fill="#2b2b2b" color="#2b2b2b" font-weight="normal" transform="translate(372.50 733.30) scale(1 1.050)">0.8</text>
<line x1="377.50" y1="710.80" x2="380.50" y2="710.80" stroke="#8a8a8a" stroke-width="1"/>
<text x="0" y="0" font-size="9.1" text-anchor="end" fill="#2b2b2b" color="#2b2b2b" font-weight="normal" transform="translate(372.50 714.00) scale(1 1.050)">0.9</text>
<line x1="377.50" y1="691.50" x2="380.50" y2="691.50" stroke="#8a8a8a" stroke-width="1"/>
<text x="0" y="0" font-size="9.1" text-anchor="end" fill="#2b2b2b" color="#2b2b2b" font-weight="normal" transform="translate(372.50 694.70) scale(1 1.050)">1.0</text>
<line x1="380.50" y1="884.50" x2="380.50" y2="887.50" stroke="#8a8a8a" stroke-width="1"/>
<text x="0" y="0" font-size="9.1" text-anchor="middle" fill="#2b2b2b" color="#2b2b2b" font-weight="normal" transform="translate(380.50 898.00) scale(1 1.050)">0.00</text>
<line x1="410.00" y1="884.50" x2="410.00" y2="887.50" stroke="#8a8a8a" stroke-width="1"/>
<text x="0" y="0" font-size="9.1" text-anchor="middle" fill="#2b2b2b" color="#2b2b2b" font-weight="normal" transform="translate(410.00 898.00) scale(1 1.050)">0.05</text>
<line x1="439.50" y1="884.50" x2="439.50" y2="887.50" stroke="#8a8a8a" stroke-width="1"/>
<text x="0" y="0" font-size="9.1" text-anchor="middle" fill="#2b2b2b" color="#2b2b2b" font-weight="normal" transform="translate(439.50 898.00) scale(1 1.050)">0.10</text>
<line x1="469.00" y1="884.50" x2="469.00" y2="887.50" stroke="#8a8a8a" stroke-width="1"/>
<text x="0" y="0" font-size="9.1" text-anchor="middle" fill="#2b2b2b" color="#2b2b2b" font-weight="normal" transform="translate(469.00 898.00) scale(1 1.050)">0.15</text>
<line x1="498.50" y1="884.50" x2="498.50" y2="887.50" stroke="#8a8a8a" stroke-width="1"/>
<text x="0" y="0" font-size="9.1" text-anchor="middle" fill="#2b2b2b" color="#2b2b2b" font-weight="normal" transform="translate(498.50 898.00) scale(1 1.050)">0.20</text>
<line x1="528.00" y1="884.50" x2="528.00" y2="887.50" stroke="#8a8a8a" stroke-width="1"/>
<text x="0" y="0" font-size="9.1" text-anchor="middle" fill="#2b2b2b" color="#2b2b2b" font-weight="normal" transform="translate(528.00 898.00) scale(1 1.050)">0.25</text>
<line x1="557.50" y1="884.50" x2="557.50" y2="887.50" stroke="#8a8a8a" stroke-width="1"/>
<text x="0" y="0" font-size="9.1" text-anchor="middle" fill="#2b2b2b" color="#2b2b2b" font-weight="normal" transform="translate(557.50 898.00) scale(1 1.050)">0.30</text>
<line x1="587.00" y1="884.50" x2="587.00" y2="887.50" stroke="#8a8a8a" stroke-width="1"/>
<text x="0" y="0" font-size="9.1" text-anchor="middle" fill="#2b2b2b" color="#2b2b2b" font-weight="normal" transform="translate(587.00 898.00) scale(1 1.050)">0.35</text>
<line x1="616.50" y1="884.50" x2="616.50" y2="887.50" stroke="#8a8a8a" stroke-width="1"/>
<text x="0" y="0" font-size="9.1" text-anchor="middle" fill="#2b2b2b" color="#2b2b2b" font-weight="normal" transform="translate(616.50 898.00) scale(1 1.050)">0.40</text>
<line x1="646.00" y1="884.50" x2="646.00" y2="887.50" stroke="#8a8a8a" stroke-width="1"/>
<text x="0" y="0" font-size="9.1" text-anchor="middle" fill="#2b2b2b" color="#2b2b2b" font-weight="normal" transform="translate(646.00 898.00) scale(1 1.050)">0.45</text>
<line x1="675.50" y1="884.50" x2="675.50" y2="887.50" stroke="#8a8a8a" stroke-width="1"/>
<text x="0" y="0" font-size="9.1" text-anchor="middle" fill="#2b2b2b" color="#2b2b2b" font-weight="normal" transform="translate(675.50 898.00) scale(1 1.050)">0.50</text>
<line x1="675.50" y1="691.50" x2="675.50" y2="884.50" stroke="#888" stroke-width="1"/>
<line x1="380.50" y1="691.50" x2="676.00" y2="691.50" stroke="#777" stroke-width="1"/>
<line x1="380.50" y1="691.00" x2="380.50" y2="885.00" stroke="#888" stroke-width="1"/>
<line x1="380.00" y1="884.50" x2="676.00" y2="884.50" stroke="#888" stroke-width="1.2"/>
<line x1="558.50" y1="693.20" x2="558.50" y2="883.90" stroke="#3a86d0" stroke-width="1" stroke-dasharray="2,1"/>
<path d="M380.50,884.50 L386.70,884.50 L388.70,871.44 L388.89,870.08 L389.08,868.77 L389.28,867.51 L389.47,866.31 L389.66,865.15 L389.85,864.03 L390.05,862.95 L390.24,861.90 L390.43,860.88 L390.62,859.88 L390.82,858.91 L391.01,857.96 L391.20,857.03 L391.39,856.12 L391.59,855.22 L391.78,854.34 L391.97,853.47 L392.16,852.62 L392.36,851.77 L392.55,850.94 L392.74,850.12 L392.93,849.31 L393.13,848.50 L393.32,847.71 L393.51,846.92 L393.70,846.14 L393.90,845.37 L394.09,844.60 L394.28,843.84 L394.47,843.08 L394.67,842.33 L394.86,841.59 L395.05,840.85 L395.24,840.11 L395.44,839.38 L395.63,838.66 L395.82,837.94 L396.01,837.22 L396.21,836.50 L396.40,835.79 L396.59,835.09 L396.78,834.39 L396.98,833.69 L397.17,832.99 L397.36,832.30 L397.55,831.61 L397.75,830.92 L397.94,830.24 L398.13,829.56 L398.32,828.88 L398.52,828.21 L398.71,827.54 L398.90,826.87 L399.09,826.20 L399.29,825.54 L399.48,824.88 L399.67,824.22 L399.86,823.56 L400.06,822.91 L400.25,822.26 L400.44,821.61 L400.63,820.96 L400.83,820.32 L401.02,819.68 L401.21,819.04 L401.40,818.41 L401.60,817.77 L401.79,817.14 L401.98,816.51 L402.17,815.88 L402.37,815.26 L402.56,814.64 L402.75,814.02 L402.94,813.40 L403.14,812.78 L403.33,812.17 L403.52,811.56 L403.71,810.95 L403.91,810.35 L404.10,809.74 L404.29,809.14 L404.48,808.54 L404.68,807.94 L404.87,807.35 L405.06,806.76 L405.25,806.17 L405.45,805.58 L405.64,804.99 L405.83,804.41 L406.02,803.83 L406.22,803.25 L406.41,802.67 L406.60,802.09 L406.79,801.52 L406.99,800.95 L407.18,800.38 L407.37,799.82 L407.56,799.25 L407.76,798.69 L407.95,798.13 L408.14,797.57 L408.33,797.02 L408.53,796.46 L408.72,795.91 L408.91,795.36 L409.10,794.82 L409.30,794.27 L409.49,793.73 L409.68,793.19 L409.87,792.65 L410.07,792.12 L410.26,791.58 L410.45,791.05 L410.64,790.52 L410.84,790.00 L411.03,789.47 L411.22,788.95 L411.41,788.43 L411.61,787.91 L411.80,787.40 L411.99,786.88 L412.18,786.37 L412.38,785.86 L412.57,785.35 L412.76,784.85 L412.95,784.35 L413.15,783.85 L413.34,783.35 L413.53,782.85 L413.72,782.36 L413.92,781.86 L414.11,781.37 L414.30,780.89 L414.49,780.40 L414.69,779.92 L414.88,779.44 L415.07,778.96 L415.26,778.48 L415.46,778.01 L415.65,777.53 L415.84,777.06 L416.03,776.59 L416.23,776.13 L416.42,775.66 L416.61,775.20 L416.80,774.74 L417.00,774.28 L417.19,773.83 L417.38,773.38 L418.24,771.37 L419.11,769.40 L419.97,767.48 L420.83,765.60 L421.70,763.75 L422.56,761.95 L423.42,760.19 L424.29,758.47 L425.15,756.79 L426.01,755.14 L426.88,753.54 L427.74,751.97 L428.60,750.44 L429.47,748.95 L430.33,747.49 L431.19,746.06 L432.06,744.67 L432.92,743.32 L433.78,742.00 L434.65,740.71 L435.51,739.45 L436.37,738.23 L437.24,737.03 L438.10,735.87 L438.96,734.73 L439.83,733.63 L440.69,732.55 L441.55,731.50 L442.42,730.48 L443.28,729.48 L444.14,728.51 L445.00,727.57 L445.87,726.65 L446.73,725.75 L447.59,724.88 L448.46,724.03 L449.32,723.21 L450.18,722.40 L451.05,721.62 L451.91,720.86 L452.77,720.12 L453.64,719.39 L454.50,718.69 L455.36,718.01 L456.23,717.34 L457.09,716.70 L457.95,716.07 L458.82,715.45 L459.68,714.86 L460.54,714.28 L461.41,713.71 L462.27,713.17 L463.13,712.63 L464.00,712.11 L464.86,711.61 L465.72,711.12 L466.59,710.64 L467.45,710.17 L468.31,709.72 L469.18,709.28 L470.04,708.85 L470.90,708.43 L471.77,708.03 L472.63,707.64 L473.49,707.25 L474.36,706.88 L475.22,706.51 L476.08,706.16 L476.95,705.82 L477.81,705.48 L478.67,705.16 L479.54,704.84 L480.40,704.53 L481.26,704.23 L482.13,703.94 L482.99,703.66 L483.85,703.38 L484.72,703.11 L485.58,702.85 L486.44,702.59 L487.31,702.35 L488.17,702.11 L489.03,701.87 L489.90,701.64 L490.76,701.42 L491.62,701.20 L492.49,700.99 L493.35,700.78 L494.21,700.58 L495.07,700.39 L495.94,700.20 L496.80,700.01 L497.66,699.83 L498.53,699.66 L499.39,699.49 L500.25,699.32 L501.12,699.16 L501.98,699.00 L502.84,698.85 L503.71,698.70 L504.57,698.55 L505.43,698.41 L506.30,698.27 L507.16,698.14 L508.02,698.00 L508.89,697.88 L509.75,697.75 L510.61,697.63 L511.48,697.51 L512.34,697.39 L513.20,697.28 L514.07,697.17 L514.93,697.06 L515.79,696.96 L516.66,696.85 L517.52,696.76 L518.38,696.66 L519.25,696.56 L520.11,696.47 L520.97,696.38 L521.84,696.29 L522.70,696.21 L523.56,696.12 L524.43,696.04 L525.29,695.96 L526.15,695.88 L527.02,695.81 L527.88,695.73 L528.74,695.66 L529.61,695.59 L530.47,695.52 L531.33,695.45 L532.20,695.39 L533.06,695.32 L533.92,695.26 L534.79,695.20 L535.65,695.14 L536.51,695.08 L537.38,695.02 L538.24,694.96 L539.10,694.91 L539.97,694.86 L540.83,694.80 L541.69,694.75 L542.56,694.70 L543.42,694.65 L544.28,694.61 L545.15,694.56 L546.01,694.51 L546.87,694.47 L547.73,694.43 L548.60,694.38 L549.46,694.34 L550.32,694.30 L551.19,694.26 L552.05,694.22 L552.91,694.19 L553.78,694.15 L554.64,694.11 L555.50,694.08 L556.37,694.04 L557.23,694.01 L558.09,693.97 L558.96,693.94 L559.82,693.91 L560.68,693.88 L561.55,693.85 L562.41,693.82 L563.27,693.79 L564.14,693.76 L565.00,693.73 L565.86,693.70 L566.73,693.68 L567.59,693.65 L568.45,693.62 L569.32,693.60 L570.18,693.58 L571.04,693.55 L571.91,693.53 L572.77,693.50 L573.63,693.48 L574.50,693.46 L575.36,693.44 L576.22,693.42 L577.09,693.39 L577.95,693.37 L578.81,693.35 L579.68,693.33 L580.54,693.32 L581.40,693.30 L582.27,693.28 L583.13,693.26 L583.99,693.24 L584.86,693.22 L585.72,693.21 L586.58,693.19 L587.45,693.17 L588.31,693.16 L589.17,693.14 L590.04,693.12 L590.90,693.11 L591.76,693.09 L592.63,693.08 L593.49,693.06 L594.35,693.04 L595.22,693.03 L596.08,693.01 L596.94,693.00 L597.81,692.98 L598.67,692.97 L599.53,692.96 L600.39,692.94 L601.26,692.93 L602.12,692.91 L602.98,692.90 L603.85,692.89 L604.71,692.87 L605.57,692.86 L606.44,692.85 L607.30,692.83 L608.16,692.82 L609.03,692.81 L609.89,692.80 L610.75,692.78 L611.62,692.77 L612.48,692.76 L613.34,692.75 L614.21,692.74 L615.07,692.72 L615.93,692.71 L616.80,692.70 L617.66,692.69 L618.52,692.68 L619.39,692.67 L620.25,692.66 L621.11,692.65 L621.98,692.64 L622.84,692.63 L623.70,692.62 L624.57,692.60 L625.43,692.59 L626.29,692.58 L627.16,692.57 L628.02,692.56 L628.88,692.56 L629.75,692.55 L630.61,692.54 L631.47,692.53 L632.34,692.52 L633.20,692.51 L634.06,692.50 L634.93,692.49 L635.79,692.48 L636.65,692.47 L637.52,692.46 L638.38,692.45 L639.24,692.45 L640.11,692.44 L640.97,692.43 L641.83,692.42 L642.70,692.41 L643.56,692.40 L644.42,692.40 L645.29,692.39 L646.15,692.38 L647.01,692.37 L647.88,692.37 L648.74,692.36 L649.60,692.35 L650.46,692.34 L651.33,692.34 L652.19,692.33 L653.05,692.32 L653.92,692.31 L654.78,692.31 L655.64,692.30 L656.51,692.29 L657.37,692.29 L658.23,692.28 L659.10,692.27 L659.96,692.27 L660.82,692.26 L661.69,692.25 L662.55,692.25 L663.41,692.24 L664.28,692.23 L665.14,692.23 L666.00,692.22 L666.87,692.22 L667.73,692.21 L668.59,692.20 L669.46,692.20 L670.32,692.19 L671.18,692.19 L672.05,692.18 L672.91,692.17 L673.77,692.17 L674.64,692.16 L675.50,692.16" fill="none" stroke="#d33a3a" stroke-width="1.1" stroke-linejoin="round"/>
<text x="0" y="0" font-size="9.1" text-anchor="start" fill="#2a78c8" color="#2a78c8" font-weight="normal" transform="translate(562.60 865.40) scale(1 1.050)">KSA</text>
<text x="0" y="0" font-size="9.1" text-anchor="start" fill="#2a78c8" color="#2a78c8" font-weight="normal" transform="translate(562.60 876.60) scale(1 1.050)">(0.3 mg/L)</text>
<text x="0" y="0" font-size="9.1" text-anchor="end" fill="#454545" color="#454545" font-weight="normal" transform="translate(672.40 865.40) scale(1 1.050)">USEPA/ HC</text>
<text x="0" y="0" font-size="9.1" text-anchor="end" fill="#454545" color="#454545" font-weight="normal" transform="translate(672.40 876.60) scale(1 1.050)">(0.5 mg/L)</text>
<text x="0" y="0" font-size="9.15" text-anchor="middle" fill="#2b2b2b" color="#2b2b2b" font-weight="normal" transform="translate(523.50 916.20) scale(1 1.050)">Zinc "Zn" (mg/L)</text>
<text x="0" y="0" font-size="9.1" text-anchor="middle" fill="#2b2b2b" color="#2b2b2b" font-weight="normal" transform="translate(356.10 787.50) rotate(-90) scale(1 1.050)">Probability</text>
<text x="0" y="0" font-size="10.5" text-anchor="start" fill="#111" color="#111" font-weight="bold" transform="translate(355.40 911.50)">(h)</text></svg>
</body></html>
